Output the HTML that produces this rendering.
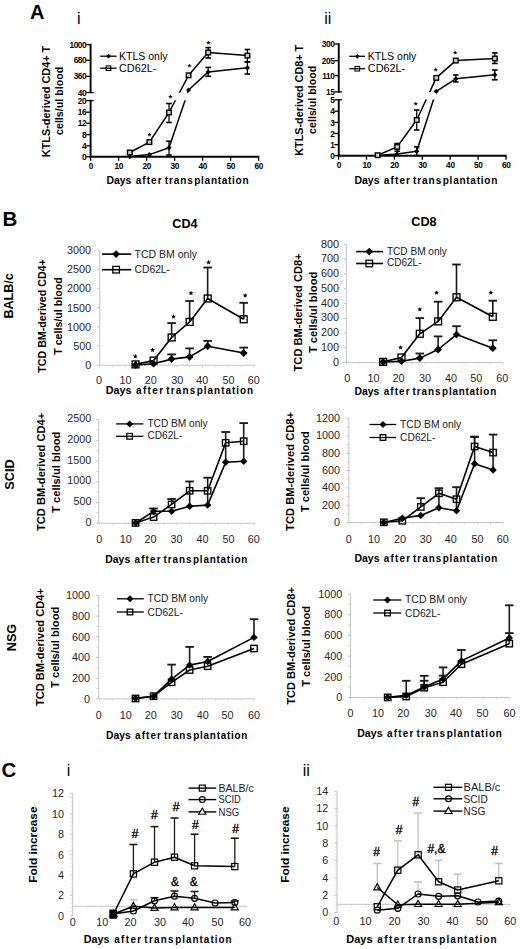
<!DOCTYPE html>
<html><head><meta charset="utf-8"><title>Figure</title>
<style>
html,body{margin:0;padding:0;background:#fff;width:520px;height:949px;overflow:hidden}
svg{display:block}
text{font-family:"Liberation Sans", sans-serif}
</style></head>
<body>
<svg width="520" height="949" viewBox="0 0 520 949">
<rect x="0" y="0" width="520" height="949" fill="#fff"/>
<text x="30.00" y="19.20" font-size="20" font-weight="bold" text-anchor="start" fill="#000" >A</text>
<text x="2.50" y="226.00" font-size="20.5" font-weight="bold" text-anchor="start" fill="#000" >B</text>
<text x="1.50" y="777.00" font-size="20.5" font-weight="bold" text-anchor="start" fill="#000" >C</text>
<text x="77.00" y="24.20" font-size="16" font-weight="normal" text-anchor="start" fill="#000" >i</text>
<text x="324.30" y="24.40" font-size="16" font-weight="normal" text-anchor="start" fill="#000" >ii</text>
<text x="66.80" y="775.60" font-size="16" font-weight="normal" text-anchor="start" fill="#000" >i</text>
<text x="302.80" y="775.80" font-size="16" font-weight="normal" text-anchor="start" fill="#000" >ii</text>
<polyline points="129.80,152.50 149.40,142.10 169.00,112.50 188.60,75.30 208.20,52.50 247.40,55.60" fill="none" stroke="#000" stroke-width="1.5" stroke-linejoin="round"/>
<polyline points="129.80,156.60 149.40,154.60 169.00,147.70 188.60,90.00 208.20,71.90 247.40,67.80" fill="none" stroke="#000" stroke-width="1.5" stroke-linejoin="round"/>
<rect x="92.60" y="92.80" width="168.00" height="7.50" fill="#fff" stroke="none" stroke-width="0"/>
<line x1="90.60" y1="43.80" x2="90.60" y2="93.30" stroke="#000" stroke-width="1.9" />
<line x1="90.60" y1="99.80" x2="90.60" y2="157.60" stroke="#000" stroke-width="1.9" />
<line x1="89.80" y1="156.80" x2="259.20" y2="156.80" stroke="#000" stroke-width="1.9" />
<line x1="86.20" y1="44.60" x2="90.60" y2="44.60" stroke="#000" stroke-width="1.3" />
<text x="86.20" y="47.70" font-size="8.3" font-weight="bold" text-anchor="end" fill="#000" letter-spacing="-0.45">1000</text>
<line x1="86.20" y1="60.20" x2="90.60" y2="60.20" stroke="#000" stroke-width="1.3" />
<text x="86.20" y="63.30" font-size="8.3" font-weight="bold" text-anchor="end" fill="#000" letter-spacing="-0.45">680</text>
<line x1="86.20" y1="76.30" x2="90.60" y2="76.30" stroke="#000" stroke-width="1.3" />
<text x="86.20" y="79.40" font-size="8.3" font-weight="bold" text-anchor="end" fill="#000" letter-spacing="-0.45">360</text>
<line x1="86.20" y1="92.50" x2="90.60" y2="92.50" stroke="#000" stroke-width="1.3" />
<text x="86.20" y="95.60" font-size="8.3" font-weight="bold" text-anchor="end" fill="#000" letter-spacing="-0.45">40</text>
<line x1="86.20" y1="100.60" x2="90.60" y2="100.60" stroke="#000" stroke-width="1.3" />
<text x="86.20" y="103.70" font-size="8.3" font-weight="bold" text-anchor="end" fill="#000" letter-spacing="-0.45">20</text>
<line x1="86.20" y1="112.20" x2="90.60" y2="112.20" stroke="#000" stroke-width="1.3" />
<text x="86.20" y="115.30" font-size="8.3" font-weight="bold" text-anchor="end" fill="#000" letter-spacing="-0.45">16</text>
<line x1="86.20" y1="123.30" x2="90.60" y2="123.30" stroke="#000" stroke-width="1.3" />
<text x="86.20" y="126.40" font-size="8.3" font-weight="bold" text-anchor="end" fill="#000" letter-spacing="-0.45">12</text>
<line x1="86.20" y1="134.60" x2="90.60" y2="134.60" stroke="#000" stroke-width="1.3" />
<text x="86.20" y="137.70" font-size="8.3" font-weight="bold" text-anchor="end" fill="#000" letter-spacing="-0.45">8</text>
<line x1="86.20" y1="145.80" x2="90.60" y2="145.80" stroke="#000" stroke-width="1.3" />
<text x="86.20" y="148.90" font-size="8.3" font-weight="bold" text-anchor="end" fill="#000" letter-spacing="-0.45">4</text>
<line x1="86.20" y1="156.80" x2="90.60" y2="156.80" stroke="#000" stroke-width="1.3" />
<text x="86.20" y="159.90" font-size="8.3" font-weight="bold" text-anchor="end" fill="#000" letter-spacing="-0.45">0</text>
<line x1="90.60" y1="92.50" x2="93.80" y2="92.50" stroke="#000" stroke-width="1.3" />
<line x1="90.60" y1="100.60" x2="93.80" y2="100.60" stroke="#000" stroke-width="1.3" />
<line x1="90.60" y1="156.80" x2="90.60" y2="160.80" stroke="#000" stroke-width="1.3" />
<text x="90.80" y="169.20" font-size="8.3" font-weight="bold" text-anchor="middle" fill="#000" letter-spacing="-0.3">0</text>
<line x1="118.60" y1="156.80" x2="118.60" y2="160.80" stroke="#000" stroke-width="1.3" />
<text x="118.80" y="169.20" font-size="8.3" font-weight="bold" text-anchor="middle" fill="#000" letter-spacing="-0.3">10</text>
<line x1="146.60" y1="156.80" x2="146.60" y2="160.80" stroke="#000" stroke-width="1.3" />
<text x="146.80" y="169.20" font-size="8.3" font-weight="bold" text-anchor="middle" fill="#000" letter-spacing="-0.3">20</text>
<line x1="174.60" y1="156.80" x2="174.60" y2="160.80" stroke="#000" stroke-width="1.3" />
<text x="174.80" y="169.20" font-size="8.3" font-weight="bold" text-anchor="middle" fill="#000" letter-spacing="-0.3">30</text>
<line x1="202.60" y1="156.80" x2="202.60" y2="160.80" stroke="#000" stroke-width="1.3" />
<text x="202.80" y="169.20" font-size="8.3" font-weight="bold" text-anchor="middle" fill="#000" letter-spacing="-0.3">40</text>
<line x1="230.60" y1="156.80" x2="230.60" y2="160.80" stroke="#000" stroke-width="1.3" />
<text x="230.80" y="169.20" font-size="8.3" font-weight="bold" text-anchor="middle" fill="#000" letter-spacing="-0.3">50</text>
<line x1="258.60" y1="156.80" x2="258.60" y2="160.80" stroke="#000" stroke-width="1.3" />
<text x="258.80" y="169.20" font-size="8.3" font-weight="bold" text-anchor="middle" fill="#000" letter-spacing="-0.3">60</text>
<line x1="169.00" y1="103.50" x2="169.00" y2="122.50" stroke="#000" stroke-width="1.25" />
<line x1="166.20" y1="103.50" x2="171.80" y2="103.50" stroke="#000" stroke-width="1.6" />
<line x1="166.20" y1="122.50" x2="171.80" y2="122.50" stroke="#000" stroke-width="1.6" />
<line x1="208.20" y1="47.60" x2="208.20" y2="58.00" stroke="#000" stroke-width="1.25" />
<line x1="205.40" y1="47.60" x2="211.00" y2="47.60" stroke="#000" stroke-width="1.6" />
<line x1="205.40" y1="58.00" x2="211.00" y2="58.00" stroke="#000" stroke-width="1.6" />
<line x1="247.40" y1="49.50" x2="247.40" y2="61.90" stroke="#000" stroke-width="1.25" />
<line x1="244.60" y1="49.50" x2="250.20" y2="49.50" stroke="#000" stroke-width="1.6" />
<line x1="244.60" y1="61.90" x2="250.20" y2="61.90" stroke="#000" stroke-width="1.6" />
<line x1="169.00" y1="141.20" x2="169.00" y2="155.00" stroke="#000" stroke-width="1.25" />
<line x1="166.20" y1="141.20" x2="171.80" y2="141.20" stroke="#000" stroke-width="1.6" />
<line x1="166.20" y1="155.00" x2="171.80" y2="155.00" stroke="#000" stroke-width="1.6" />
<line x1="208.20" y1="67.40" x2="208.20" y2="76.30" stroke="#000" stroke-width="1.25" />
<line x1="205.40" y1="67.40" x2="211.00" y2="67.40" stroke="#000" stroke-width="1.6" />
<line x1="205.40" y1="76.30" x2="211.00" y2="76.30" stroke="#000" stroke-width="1.6" />
<line x1="247.40" y1="61.90" x2="247.40" y2="74.00" stroke="#000" stroke-width="1.25" />
<line x1="244.60" y1="61.90" x2="250.20" y2="61.90" stroke="#000" stroke-width="1.6" />
<line x1="244.60" y1="74.00" x2="250.20" y2="74.00" stroke="#000" stroke-width="1.6" />
<polygon points="129.80,154.00 132.40,156.60 129.80,159.20 127.20,156.60" fill="#000"/>
<polygon points="149.40,152.00 152.00,154.60 149.40,157.20 146.80,154.60" fill="#000"/>
<polygon points="169.00,145.10 171.60,147.70 169.00,150.30 166.40,147.70" fill="#000"/>
<polygon points="188.60,87.40 191.20,90.00 188.60,92.60 186.00,90.00" fill="#000"/>
<polygon points="208.20,69.30 210.80,71.90 208.20,74.50 205.60,71.90" fill="#000"/>
<polygon points="247.40,65.20 250.00,67.80 247.40,70.40 244.80,67.80" fill="#000"/>
<rect x="127.50" y="150.20" width="4.60" height="4.60" fill="#cfcfcf" stroke="#000" stroke-width="1.4"/>
<rect x="147.10" y="139.80" width="4.60" height="4.60" fill="#cfcfcf" stroke="#000" stroke-width="1.4"/>
<rect x="166.70" y="110.20" width="4.60" height="4.60" fill="#cfcfcf" stroke="#000" stroke-width="1.4"/>
<rect x="186.30" y="73.00" width="4.60" height="4.60" fill="#cfcfcf" stroke="#000" stroke-width="1.4"/>
<rect x="205.90" y="50.20" width="4.60" height="4.60" fill="#cfcfcf" stroke="#000" stroke-width="1.4"/>
<rect x="245.10" y="53.30" width="4.60" height="4.60" fill="#cfcfcf" stroke="#000" stroke-width="1.4"/>
<text x="149.40" y="138.60" font-size="9.5" font-weight="bold" text-anchor="middle" fill="#000" >*</text>
<text x="170.30" y="100.90" font-size="9.5" font-weight="bold" text-anchor="middle" fill="#000" >*</text>
<text x="189.40" y="70.20" font-size="9.5" font-weight="bold" text-anchor="middle" fill="#000" >*</text>
<text x="208.40" y="46.60" font-size="9.5" font-weight="bold" text-anchor="middle" fill="#000" >*</text>
<line x1="100.20" y1="56.20" x2="116.60" y2="56.20" stroke="#000" stroke-width="1.3" />
<polygon points="108.50,53.80 110.90,56.20 108.50,58.60 106.10,56.20" fill="#000"/>
<line x1="100.20" y1="68.20" x2="116.60" y2="68.20" stroke="#000" stroke-width="1.3" />
<rect x="106.20" y="65.90" width="4.60" height="4.60" fill="none" stroke="#000" stroke-width="1.1"/>
<text x="119.00" y="59.80" font-size="10.5" font-weight="normal" text-anchor="start" fill="#000" textLength="48.60" lengthAdjust="spacingAndGlyphs" >KTLS only</text>
<text x="119.00" y="71.80" font-size="10.5" font-weight="normal" text-anchor="start" fill="#000" textLength="37.40" lengthAdjust="spacingAndGlyphs" >CD62L-</text>
<text x="49.70" y="101.50" font-size="11" font-weight="bold" text-anchor="middle" fill="#000" textLength="111.30" lengthAdjust="spacingAndGlyphs" transform="rotate(-90 49.70 101.50)" >KTLS-derived CD4+ T</text>
<text x="63.10" y="100.85" font-size="11" font-weight="bold" text-anchor="middle" fill="#000" textLength="68.30" lengthAdjust="spacingAndGlyphs" transform="rotate(-90 63.10 100.85)" >cells/ul blood</text>
<text transform="translate(106.40 183.80) scale(0.9 1)" x="0" y="0" font-size="11.2" font-weight="bold" fill="#000" textLength="27.69" lengthAdjust="spacingAndGlyphs">Days</text>
<text transform="translate(135.65 183.80) scale(0.9 1)" x="0" y="0" font-size="11.2" font-weight="bold" fill="#000" textLength="28.95" lengthAdjust="spacing">after</text>
<text transform="translate(164.69 183.80) scale(0.9 1)" x="0" y="0" font-size="11.2" font-weight="bold" fill="#000" textLength="31.22" lengthAdjust="spacing">trans</text>
<text transform="translate(194.29 183.80) scale(0.9 1)" x="0" y="0" font-size="11.2" font-weight="bold" fill="#000" textLength="60.35" lengthAdjust="spacing">plantation</text>
<polyline points="377.66,155.20 397.19,146.90 416.72,120.00 436.25,77.90 455.78,60.60 494.84,58.50" fill="none" stroke="#000" stroke-width="1.5" stroke-linejoin="round"/>
<polyline points="377.66,155.50 397.19,154.00 416.72,151.30 436.25,91.30 455.78,78.80 494.84,74.80" fill="none" stroke="#000" stroke-width="1.5" stroke-linejoin="round"/>
<rect x="340.75" y="92.20" width="167.25" height="7.25" fill="#fff" stroke="none" stroke-width="0"/>
<line x1="338.75" y1="43.20" x2="338.75" y2="92.70" stroke="#000" stroke-width="1.9" />
<line x1="338.75" y1="98.95" x2="338.75" y2="156.50" stroke="#000" stroke-width="1.9" />
<line x1="337.95" y1="155.70" x2="506.60" y2="155.70" stroke="#000" stroke-width="1.9" />
<line x1="334.35" y1="44.00" x2="338.75" y2="44.00" stroke="#000" stroke-width="1.3" />
<text x="334.35" y="47.10" font-size="8.3" font-weight="bold" text-anchor="end" fill="#000" letter-spacing="-0.45">300</text>
<line x1="334.35" y1="60.60" x2="338.75" y2="60.60" stroke="#000" stroke-width="1.3" />
<text x="334.35" y="63.70" font-size="8.3" font-weight="bold" text-anchor="end" fill="#000" letter-spacing="-0.45">205</text>
<line x1="334.35" y1="75.60" x2="338.75" y2="75.60" stroke="#000" stroke-width="1.3" />
<text x="334.35" y="78.70" font-size="8.3" font-weight="bold" text-anchor="end" fill="#000" letter-spacing="-0.45">110</text>
<line x1="334.35" y1="91.90" x2="338.75" y2="91.90" stroke="#000" stroke-width="1.3" />
<text x="334.35" y="95.00" font-size="8.3" font-weight="bold" text-anchor="end" fill="#000" letter-spacing="-0.45">15</text>
<line x1="334.35" y1="99.75" x2="338.75" y2="99.75" stroke="#000" stroke-width="1.3" />
<text x="334.35" y="102.85" font-size="8.3" font-weight="bold" text-anchor="end" fill="#000" letter-spacing="-0.45">5</text>
<line x1="334.35" y1="111.20" x2="338.75" y2="111.20" stroke="#000" stroke-width="1.3" />
<text x="334.35" y="114.30" font-size="8.3" font-weight="bold" text-anchor="end" fill="#000" letter-spacing="-0.45">4</text>
<line x1="334.35" y1="122.40" x2="338.75" y2="122.40" stroke="#000" stroke-width="1.3" />
<text x="334.35" y="125.50" font-size="8.3" font-weight="bold" text-anchor="end" fill="#000" letter-spacing="-0.45">3</text>
<line x1="334.35" y1="133.50" x2="338.75" y2="133.50" stroke="#000" stroke-width="1.3" />
<text x="334.35" y="136.60" font-size="8.3" font-weight="bold" text-anchor="end" fill="#000" letter-spacing="-0.45">2</text>
<line x1="334.35" y1="144.60" x2="338.75" y2="144.60" stroke="#000" stroke-width="1.3" />
<text x="334.35" y="147.70" font-size="8.3" font-weight="bold" text-anchor="end" fill="#000" letter-spacing="-0.45">1</text>
<line x1="334.35" y1="155.70" x2="338.75" y2="155.70" stroke="#000" stroke-width="1.3" />
<text x="334.35" y="158.80" font-size="8.3" font-weight="bold" text-anchor="end" fill="#000" letter-spacing="-0.45">0</text>
<line x1="338.75" y1="91.90" x2="341.95" y2="91.90" stroke="#000" stroke-width="1.3" />
<line x1="338.75" y1="99.75" x2="341.95" y2="99.75" stroke="#000" stroke-width="1.3" />
<line x1="338.60" y1="155.70" x2="338.60" y2="159.70" stroke="#000" stroke-width="1.3" />
<text x="338.80" y="168.10" font-size="8.3" font-weight="bold" text-anchor="middle" fill="#000" letter-spacing="-0.3">0</text>
<line x1="366.50" y1="155.70" x2="366.50" y2="159.70" stroke="#000" stroke-width="1.3" />
<text x="366.70" y="168.10" font-size="8.3" font-weight="bold" text-anchor="middle" fill="#000" letter-spacing="-0.3">10</text>
<line x1="394.40" y1="155.70" x2="394.40" y2="159.70" stroke="#000" stroke-width="1.3" />
<text x="394.60" y="168.10" font-size="8.3" font-weight="bold" text-anchor="middle" fill="#000" letter-spacing="-0.3">20</text>
<line x1="422.30" y1="155.70" x2="422.30" y2="159.70" stroke="#000" stroke-width="1.3" />
<text x="422.50" y="168.10" font-size="8.3" font-weight="bold" text-anchor="middle" fill="#000" letter-spacing="-0.3">30</text>
<line x1="450.20" y1="155.70" x2="450.20" y2="159.70" stroke="#000" stroke-width="1.3" />
<text x="450.40" y="168.10" font-size="8.3" font-weight="bold" text-anchor="middle" fill="#000" letter-spacing="-0.3">40</text>
<line x1="478.10" y1="155.70" x2="478.10" y2="159.70" stroke="#000" stroke-width="1.3" />
<text x="478.30" y="168.10" font-size="8.3" font-weight="bold" text-anchor="middle" fill="#000" letter-spacing="-0.3">50</text>
<line x1="506.00" y1="155.70" x2="506.00" y2="159.70" stroke="#000" stroke-width="1.3" />
<text x="506.20" y="168.10" font-size="8.3" font-weight="bold" text-anchor="middle" fill="#000" letter-spacing="-0.3">60</text>
<line x1="397.19" y1="143.50" x2="397.19" y2="151.20" stroke="#000" stroke-width="1.25" />
<line x1="394.39" y1="143.50" x2="399.99" y2="143.50" stroke="#000" stroke-width="1.6" />
<line x1="394.39" y1="151.20" x2="399.99" y2="151.20" stroke="#000" stroke-width="1.6" />
<line x1="416.72" y1="110.00" x2="416.72" y2="130.00" stroke="#000" stroke-width="1.25" />
<line x1="413.92" y1="110.00" x2="419.52" y2="110.00" stroke="#000" stroke-width="1.6" />
<line x1="413.92" y1="130.00" x2="419.52" y2="130.00" stroke="#000" stroke-width="1.6" />
<line x1="494.84" y1="52.90" x2="494.84" y2="63.50" stroke="#000" stroke-width="1.25" />
<line x1="492.04" y1="52.90" x2="497.64" y2="52.90" stroke="#000" stroke-width="1.6" />
<line x1="492.04" y1="63.50" x2="497.64" y2="63.50" stroke="#000" stroke-width="1.6" />
<line x1="416.72" y1="146.90" x2="416.72" y2="155.50" stroke="#000" stroke-width="1.25" />
<line x1="413.92" y1="146.90" x2="419.52" y2="146.90" stroke="#000" stroke-width="1.6" />
<line x1="413.92" y1="155.50" x2="419.52" y2="155.50" stroke="#000" stroke-width="1.6" />
<line x1="455.78" y1="75.00" x2="455.78" y2="81.90" stroke="#000" stroke-width="1.25" />
<line x1="452.98" y1="75.00" x2="458.58" y2="75.00" stroke="#000" stroke-width="1.6" />
<line x1="452.98" y1="81.90" x2="458.58" y2="81.90" stroke="#000" stroke-width="1.6" />
<line x1="494.84" y1="70.00" x2="494.84" y2="79.80" stroke="#000" stroke-width="1.25" />
<line x1="492.04" y1="70.00" x2="497.64" y2="70.00" stroke="#000" stroke-width="1.6" />
<line x1="492.04" y1="79.80" x2="497.64" y2="79.80" stroke="#000" stroke-width="1.6" />
<polygon points="377.66,152.90 380.26,155.50 377.66,158.10 375.06,155.50" fill="#000"/>
<polygon points="397.19,151.40 399.79,154.00 397.19,156.60 394.59,154.00" fill="#000"/>
<polygon points="416.72,148.70 419.32,151.30 416.72,153.90 414.12,151.30" fill="#000"/>
<polygon points="436.25,88.70 438.85,91.30 436.25,93.90 433.65,91.30" fill="#000"/>
<polygon points="455.78,76.20 458.38,78.80 455.78,81.40 453.18,78.80" fill="#000"/>
<polygon points="494.84,72.20 497.44,74.80 494.84,77.40 492.24,74.80" fill="#000"/>
<rect x="375.36" y="152.90" width="4.60" height="4.60" fill="#cfcfcf" stroke="#000" stroke-width="1.4"/>
<rect x="394.89" y="144.60" width="4.60" height="4.60" fill="#cfcfcf" stroke="#000" stroke-width="1.4"/>
<rect x="414.42" y="117.70" width="4.60" height="4.60" fill="#cfcfcf" stroke="#000" stroke-width="1.4"/>
<rect x="433.95" y="75.60" width="4.60" height="4.60" fill="#cfcfcf" stroke="#000" stroke-width="1.4"/>
<rect x="453.48" y="58.30" width="4.60" height="4.60" fill="#cfcfcf" stroke="#000" stroke-width="1.4"/>
<rect x="492.54" y="56.20" width="4.60" height="4.60" fill="#cfcfcf" stroke="#000" stroke-width="1.4"/>
<text x="415.60" y="108.10" font-size="9.5" font-weight="bold" text-anchor="middle" fill="#000" >*</text>
<text x="435.60" y="74.00" font-size="9.5" font-weight="bold" text-anchor="middle" fill="#000" >*</text>
<text x="455.20" y="56.90" font-size="9.5" font-weight="bold" text-anchor="middle" fill="#000" >*</text>
<line x1="349.40" y1="56.30" x2="365.00" y2="56.30" stroke="#000" stroke-width="1.3" />
<polygon points="357.30,53.90 359.70,56.30 357.30,58.70 354.90,56.30" fill="#000"/>
<line x1="349.40" y1="68.70" x2="365.00" y2="68.70" stroke="#000" stroke-width="1.3" />
<rect x="355.00" y="66.40" width="4.60" height="4.60" fill="none" stroke="#000" stroke-width="1.1"/>
<text x="367.80" y="59.90" font-size="10.5" font-weight="normal" text-anchor="start" fill="#000" textLength="48.60" lengthAdjust="spacingAndGlyphs" >KTLS only</text>
<text x="367.80" y="72.30" font-size="10.5" font-weight="normal" text-anchor="start" fill="#000" textLength="37.40" lengthAdjust="spacingAndGlyphs" >CD62L-</text>
<text x="303.00" y="100.30" font-size="11" font-weight="bold" text-anchor="middle" fill="#000" textLength="110.90" lengthAdjust="spacingAndGlyphs" transform="rotate(-90 303.00 100.30)" >KTLS-derived CD8+ T</text>
<text x="316.00" y="99.80" font-size="11" font-weight="bold" text-anchor="middle" fill="#000" textLength="68.20" lengthAdjust="spacingAndGlyphs" transform="rotate(-90 316.00 99.80)" >cells/ul blood</text>
<text transform="translate(354.50 183.80) scale(0.9 1)" x="0" y="0" font-size="11.2" font-weight="bold" fill="#000" textLength="27.80" lengthAdjust="spacingAndGlyphs">Days</text>
<text transform="translate(383.87 183.80) scale(0.9 1)" x="0" y="0" font-size="11.2" font-weight="bold" fill="#000" textLength="29.06" lengthAdjust="spacing">after</text>
<text transform="translate(413.03 183.80) scale(0.9 1)" x="0" y="0" font-size="11.2" font-weight="bold" fill="#000" textLength="31.35" lengthAdjust="spacing">trans</text>
<text transform="translate(442.76 183.80) scale(0.9 1)" x="0" y="0" font-size="11.2" font-weight="bold" fill="#000" textLength="60.60" lengthAdjust="spacing">plantation</text>
<text x="172.30" y="227.60" font-size="12" font-weight="bold" text-anchor="start" fill="#000" textLength="25.20" lengthAdjust="spacingAndGlyphs" >CD4</text>
<text x="411.30" y="226.40" font-size="12" font-weight="bold" text-anchor="start" fill="#000" textLength="25.20" lengthAdjust="spacingAndGlyphs" >CD8</text>
<text x="13.50" y="295.90" font-size="12" font-weight="bold" text-anchor="middle" fill="#000" textLength="45.40" lengthAdjust="spacingAndGlyphs" transform="rotate(-90 13.50 295.90)" >BALB/c</text>
<text x="13.90" y="474.60" font-size="12" font-weight="bold" text-anchor="middle" fill="#000" textLength="30.40" lengthAdjust="spacingAndGlyphs" transform="rotate(-90 13.90 474.60)" >SCID</text>
<text x="15.90" y="637.50" font-size="12" font-weight="bold" text-anchor="middle" fill="#000" textLength="27.30" lengthAdjust="spacingAndGlyphs" transform="rotate(-90 15.90 637.50)" >NSG</text>
<line x1="99.75" y1="250.00" x2="99.75" y2="365.20" stroke="#c4c4c4" stroke-width="1.0" />
<line x1="99.75" y1="365.20" x2="255.30" y2="365.20" stroke="#c4c4c4" stroke-width="1.0" />
<line x1="97.15" y1="365.20" x2="99.75" y2="365.20" stroke="#c4c4c4" stroke-width="1.0" />
<text x="91.15" y="369.10" font-size="10.8" font-weight="normal" text-anchor="end" fill="#262626" >0</text>
<line x1="97.15" y1="346.00" x2="99.75" y2="346.00" stroke="#c4c4c4" stroke-width="1.0" />
<text x="91.15" y="349.90" font-size="10.8" font-weight="normal" text-anchor="end" fill="#262626" >500</text>
<line x1="97.15" y1="326.80" x2="99.75" y2="326.80" stroke="#c4c4c4" stroke-width="1.0" />
<text x="91.15" y="330.70" font-size="10.8" font-weight="normal" text-anchor="end" fill="#262626" >1000</text>
<line x1="97.15" y1="307.60" x2="99.75" y2="307.60" stroke="#c4c4c4" stroke-width="1.0" />
<text x="91.15" y="311.50" font-size="10.8" font-weight="normal" text-anchor="end" fill="#262626" >1500</text>
<line x1="97.15" y1="288.40" x2="99.75" y2="288.40" stroke="#c4c4c4" stroke-width="1.0" />
<text x="91.15" y="292.30" font-size="10.8" font-weight="normal" text-anchor="end" fill="#262626" >2000</text>
<line x1="97.15" y1="269.20" x2="99.75" y2="269.20" stroke="#c4c4c4" stroke-width="1.0" />
<text x="91.15" y="273.10" font-size="10.8" font-weight="normal" text-anchor="end" fill="#262626" >2500</text>
<line x1="97.15" y1="250.00" x2="99.75" y2="250.00" stroke="#c4c4c4" stroke-width="1.0" />
<text x="91.15" y="253.90" font-size="10.8" font-weight="normal" text-anchor="end" fill="#262626" >3000</text>
<line x1="99.50" y1="365.20" x2="99.50" y2="367.40" stroke="#d0d0d0" stroke-width="0.8" />
<line x1="112.38" y1="365.20" x2="112.38" y2="367.40" stroke="#d0d0d0" stroke-width="0.8" />
<line x1="125.25" y1="365.20" x2="125.25" y2="367.40" stroke="#d0d0d0" stroke-width="0.8" />
<line x1="138.12" y1="365.20" x2="138.12" y2="367.40" stroke="#d0d0d0" stroke-width="0.8" />
<line x1="151.00" y1="365.20" x2="151.00" y2="367.40" stroke="#d0d0d0" stroke-width="0.8" />
<line x1="163.88" y1="365.20" x2="163.88" y2="367.40" stroke="#d0d0d0" stroke-width="0.8" />
<line x1="176.75" y1="365.20" x2="176.75" y2="367.40" stroke="#d0d0d0" stroke-width="0.8" />
<line x1="189.62" y1="365.20" x2="189.62" y2="367.40" stroke="#d0d0d0" stroke-width="0.8" />
<line x1="202.50" y1="365.20" x2="202.50" y2="367.40" stroke="#d0d0d0" stroke-width="0.8" />
<line x1="215.38" y1="365.20" x2="215.38" y2="367.40" stroke="#d0d0d0" stroke-width="0.8" />
<line x1="228.25" y1="365.20" x2="228.25" y2="367.40" stroke="#d0d0d0" stroke-width="0.8" />
<line x1="241.12" y1="365.20" x2="241.12" y2="367.40" stroke="#d0d0d0" stroke-width="0.8" />
<line x1="254.00" y1="365.20" x2="254.00" y2="367.40" stroke="#d0d0d0" stroke-width="0.8" />
<text x="98.90" y="383.50" font-size="10.8" font-weight="normal" text-anchor="middle" fill="#262626" >0</text>
<text x="125.60" y="383.50" font-size="10.8" font-weight="normal" text-anchor="middle" fill="#262626" >10</text>
<text x="150.80" y="383.50" font-size="10.8" font-weight="normal" text-anchor="middle" fill="#262626" >20</text>
<text x="177.20" y="383.50" font-size="10.8" font-weight="normal" text-anchor="middle" fill="#262626" >30</text>
<text x="202.20" y="383.50" font-size="10.8" font-weight="normal" text-anchor="middle" fill="#262626" >40</text>
<text x="228.40" y="383.50" font-size="10.8" font-weight="normal" text-anchor="middle" fill="#262626" >50</text>
<text x="253.70" y="383.50" font-size="10.8" font-weight="normal" text-anchor="middle" fill="#262626" >60</text>
<text transform="translate(105.70 394.20) scale(0.9 1)" x="0" y="0" font-size="11.0" font-weight="bold" fill="#000" textLength="28.67" lengthAdjust="spacingAndGlyphs">Days</text>
<text transform="translate(136.03 394.20) scale(0.9 1)" x="0" y="0" font-size="11.0" font-weight="bold" fill="#000" textLength="29.97" lengthAdjust="spacing">after</text>
<text transform="translate(166.13 394.20) scale(0.9 1)" x="0" y="0" font-size="11.0" font-weight="bold" fill="#000" textLength="32.33" lengthAdjust="spacing">trans</text>
<text transform="translate(196.82 394.20) scale(0.9 1)" x="0" y="0" font-size="11.0" font-weight="bold" fill="#000" textLength="62.53" lengthAdjust="spacing">plantation</text>
<text x="45.90" y="316.00" font-size="11" font-weight="bold" text-anchor="middle" fill="#000" textLength="113.50" lengthAdjust="spacingAndGlyphs" transform="rotate(-90 45.90 316.00)" >TCD BM-derived CD4+</text>
<text x="61.60" y="316.00" font-size="11" font-weight="bold" text-anchor="middle" fill="#000" textLength="77.70" lengthAdjust="spacingAndGlyphs" transform="rotate(-90 61.60 316.00)" >T cells/ul blood</text>
<polyline points="135.55,365.00 153.57,363.70 171.60,359.10 189.62,356.90 207.65,346.20 243.70,353.00" fill="none" stroke="#000" stroke-width="1.6" stroke-linejoin="round"/>
<polyline points="135.55,364.40 153.57,360.60 171.60,337.50 189.62,321.90 207.65,298.50 243.70,319.30" fill="none" stroke="#000" stroke-width="1.6" stroke-linejoin="round"/>
<line x1="171.60" y1="359.10" x2="171.60" y2="354.40" stroke="#1a1a1a" stroke-width="1.6" />
<line x1="167.30" y1="354.40" x2="175.90" y2="354.40" stroke="#1a1a1a" stroke-width="1.85" />
<line x1="189.62" y1="356.90" x2="189.62" y2="348.40" stroke="#1a1a1a" stroke-width="1.6" />
<line x1="185.32" y1="348.40" x2="193.93" y2="348.40" stroke="#1a1a1a" stroke-width="1.85" />
<line x1="207.65" y1="346.20" x2="207.65" y2="340.90" stroke="#1a1a1a" stroke-width="1.6" />
<line x1="203.35" y1="340.90" x2="211.95" y2="340.90" stroke="#1a1a1a" stroke-width="1.85" />
<line x1="243.70" y1="353.00" x2="243.70" y2="347.60" stroke="#1a1a1a" stroke-width="1.6" />
<line x1="239.40" y1="347.60" x2="248.00" y2="347.60" stroke="#1a1a1a" stroke-width="1.85" />
<line x1="171.60" y1="337.50" x2="171.60" y2="323.10" stroke="#1a1a1a" stroke-width="1.6" />
<line x1="167.30" y1="323.10" x2="175.90" y2="323.10" stroke="#1a1a1a" stroke-width="1.85" />
<line x1="189.62" y1="321.90" x2="189.62" y2="301.00" stroke="#1a1a1a" stroke-width="1.6" />
<line x1="185.32" y1="301.00" x2="193.93" y2="301.00" stroke="#1a1a1a" stroke-width="1.85" />
<line x1="207.65" y1="298.50" x2="207.65" y2="267.50" stroke="#1a1a1a" stroke-width="1.6" />
<line x1="203.35" y1="267.50" x2="211.95" y2="267.50" stroke="#1a1a1a" stroke-width="1.85" />
<line x1="243.70" y1="319.30" x2="243.70" y2="302.80" stroke="#1a1a1a" stroke-width="1.6" />
<line x1="239.40" y1="302.80" x2="248.00" y2="302.80" stroke="#1a1a1a" stroke-width="1.85" />
<polygon points="135.55,361.10 139.45,365.00 135.55,368.90 131.65,365.00" fill="#000"/>
<polygon points="153.57,359.80 157.47,363.70 153.57,367.60 149.67,363.70" fill="#000"/>
<polygon points="171.60,355.20 175.50,359.10 171.60,363.00 167.70,359.10" fill="#000"/>
<polygon points="189.62,353.00 193.53,356.90 189.62,360.80 185.72,356.90" fill="#000"/>
<polygon points="207.65,342.30 211.55,346.20 207.65,350.10 203.75,346.20" fill="#000"/>
<polygon points="243.70,349.10 247.60,353.00 243.70,356.90 239.80,353.00" fill="#000"/>
<rect x="132.10" y="360.95" width="6.90" height="6.90" fill="none" stroke="#000" stroke-width="1.35"/>
<rect x="150.12" y="357.15" width="6.90" height="6.90" fill="none" stroke="#000" stroke-width="1.35"/>
<rect x="168.15" y="334.05" width="6.90" height="6.90" fill="none" stroke="#000" stroke-width="1.35"/>
<rect x="186.18" y="318.45" width="6.90" height="6.90" fill="none" stroke="#000" stroke-width="1.35"/>
<rect x="204.20" y="295.05" width="6.90" height="6.90" fill="none" stroke="#000" stroke-width="1.35"/>
<rect x="240.25" y="315.85" width="6.90" height="6.90" fill="none" stroke="#000" stroke-width="1.35"/>
<polygon points="135.30,353.85 135.97,355.47 137.73,355.61 136.39,356.75 136.80,358.46 135.30,357.55 133.80,358.46 134.21,356.75 132.87,355.61 134.63,355.47" fill="#000"/>
<polygon points="152.60,347.45 153.27,349.07 155.03,349.21 153.69,350.35 154.10,352.06 152.60,351.15 151.10,352.06 151.51,350.35 150.17,349.21 151.93,349.07" fill="#000"/>
<polygon points="173.50,314.05 174.17,315.67 175.93,315.81 174.59,316.95 175.00,318.66 173.50,317.75 172.00,318.66 172.41,316.95 171.07,315.81 172.83,315.67" fill="#000"/>
<polygon points="191.00,290.55 191.67,292.17 193.43,292.31 192.09,293.45 192.50,295.16 191.00,294.25 189.50,295.16 189.91,293.45 188.57,292.31 190.33,292.17" fill="#000"/>
<polygon points="208.60,259.85 209.27,261.47 211.03,261.61 209.69,262.75 210.10,264.46 208.60,263.55 207.10,264.46 207.51,262.75 206.17,261.61 207.93,261.47" fill="#000"/>
<polygon points="245.20,292.95 245.87,294.57 247.63,294.71 246.29,295.85 246.70,297.56 245.20,296.65 243.70,297.56 244.11,295.85 242.77,294.71 244.53,294.57" fill="#000"/>
<line x1="101.90" y1="254.10" x2="131.30" y2="254.10" stroke="#000" stroke-width="1.6" />
<polygon points="116.10,250.20 120.00,254.10 116.10,258.00 112.20,254.10" fill="#000"/>
<line x1="101.90" y1="269.70" x2="131.30" y2="269.70" stroke="#000" stroke-width="1.6" />
<rect x="112.80" y="266.40" width="6.60" height="6.60" fill="none" stroke="#000" stroke-width="1.3"/>
<text x="134.60" y="257.60" font-size="10.5" font-weight="normal" text-anchor="start" fill="#1a1a1a" textLength="62.40" lengthAdjust="spacingAndGlyphs" >TCD BM only</text>
<text x="134.60" y="273.40" font-size="10.5" font-weight="normal" text-anchor="start" fill="#1a1a1a" textLength="35.40" lengthAdjust="spacingAndGlyphs" >CD62L-</text>
<line x1="346.40" y1="244.50" x2="346.40" y2="362.60" stroke="#c4c4c4" stroke-width="1.0" />
<line x1="346.40" y1="362.60" x2="503.20" y2="362.60" stroke="#c4c4c4" stroke-width="1.0" />
<line x1="343.80" y1="362.60" x2="346.40" y2="362.60" stroke="#c4c4c4" stroke-width="1.0" />
<text x="338.90" y="365.60" font-size="10.8" font-weight="normal" text-anchor="end" fill="#262626" >0</text>
<line x1="343.80" y1="347.84" x2="346.40" y2="347.84" stroke="#c4c4c4" stroke-width="1.0" />
<text x="338.90" y="350.84" font-size="10.8" font-weight="normal" text-anchor="end" fill="#262626" >100</text>
<line x1="343.80" y1="333.08" x2="346.40" y2="333.08" stroke="#c4c4c4" stroke-width="1.0" />
<text x="338.90" y="336.08" font-size="10.8" font-weight="normal" text-anchor="end" fill="#262626" >200</text>
<line x1="343.80" y1="318.32" x2="346.40" y2="318.32" stroke="#c4c4c4" stroke-width="1.0" />
<text x="338.90" y="321.32" font-size="10.8" font-weight="normal" text-anchor="end" fill="#262626" >300</text>
<line x1="343.80" y1="303.56" x2="346.40" y2="303.56" stroke="#c4c4c4" stroke-width="1.0" />
<text x="338.90" y="306.56" font-size="10.8" font-weight="normal" text-anchor="end" fill="#262626" >400</text>
<line x1="343.80" y1="288.80" x2="346.40" y2="288.80" stroke="#c4c4c4" stroke-width="1.0" />
<text x="338.90" y="291.80" font-size="10.8" font-weight="normal" text-anchor="end" fill="#262626" >500</text>
<line x1="343.80" y1="274.04" x2="346.40" y2="274.04" stroke="#c4c4c4" stroke-width="1.0" />
<text x="338.90" y="277.04" font-size="10.8" font-weight="normal" text-anchor="end" fill="#262626" >600</text>
<line x1="343.80" y1="259.28" x2="346.40" y2="259.28" stroke="#c4c4c4" stroke-width="1.0" />
<text x="338.90" y="262.28" font-size="10.8" font-weight="normal" text-anchor="end" fill="#262626" >700</text>
<line x1="343.80" y1="244.52" x2="346.40" y2="244.52" stroke="#c4c4c4" stroke-width="1.0" />
<text x="338.90" y="247.52" font-size="10.8" font-weight="normal" text-anchor="end" fill="#262626" >800</text>
<line x1="346.70" y1="362.60" x2="346.70" y2="364.80" stroke="#d0d0d0" stroke-width="0.8" />
<line x1="359.75" y1="362.60" x2="359.75" y2="364.80" stroke="#d0d0d0" stroke-width="0.8" />
<line x1="372.80" y1="362.60" x2="372.80" y2="364.80" stroke="#d0d0d0" stroke-width="0.8" />
<line x1="385.85" y1="362.60" x2="385.85" y2="364.80" stroke="#d0d0d0" stroke-width="0.8" />
<line x1="398.90" y1="362.60" x2="398.90" y2="364.80" stroke="#d0d0d0" stroke-width="0.8" />
<line x1="411.95" y1="362.60" x2="411.95" y2="364.80" stroke="#d0d0d0" stroke-width="0.8" />
<line x1="425.00" y1="362.60" x2="425.00" y2="364.80" stroke="#d0d0d0" stroke-width="0.8" />
<line x1="438.05" y1="362.60" x2="438.05" y2="364.80" stroke="#d0d0d0" stroke-width="0.8" />
<line x1="451.10" y1="362.60" x2="451.10" y2="364.80" stroke="#d0d0d0" stroke-width="0.8" />
<line x1="464.15" y1="362.60" x2="464.15" y2="364.80" stroke="#d0d0d0" stroke-width="0.8" />
<line x1="477.20" y1="362.60" x2="477.20" y2="364.80" stroke="#d0d0d0" stroke-width="0.8" />
<line x1="490.25" y1="362.60" x2="490.25" y2="364.80" stroke="#d0d0d0" stroke-width="0.8" />
<line x1="503.30" y1="362.60" x2="503.30" y2="364.80" stroke="#d0d0d0" stroke-width="0.8" />
<text x="347.20" y="381.50" font-size="10.8" font-weight="normal" text-anchor="middle" fill="#262626" >0</text>
<text x="373.40" y="381.50" font-size="10.8" font-weight="normal" text-anchor="middle" fill="#262626" >10</text>
<text x="398.60" y="381.50" font-size="10.8" font-weight="normal" text-anchor="middle" fill="#262626" >20</text>
<text x="425.00" y="381.50" font-size="10.8" font-weight="normal" text-anchor="middle" fill="#262626" >30</text>
<text x="451.10" y="381.50" font-size="10.8" font-weight="normal" text-anchor="middle" fill="#262626" >40</text>
<text x="476.30" y="381.50" font-size="10.8" font-weight="normal" text-anchor="middle" fill="#262626" >50</text>
<text x="502.30" y="381.50" font-size="10.8" font-weight="normal" text-anchor="middle" fill="#262626" >60</text>
<text transform="translate(354.50 394.50) scale(0.9 1)" x="0" y="0" font-size="11.0" font-weight="bold" fill="#000" textLength="27.60" lengthAdjust="spacingAndGlyphs">Days</text>
<text transform="translate(383.65 394.50) scale(0.9 1)" x="0" y="0" font-size="11.0" font-weight="bold" fill="#000" textLength="28.85" lengthAdjust="spacing">after</text>
<text transform="translate(412.58 394.50) scale(0.9 1)" x="0" y="0" font-size="11.0" font-weight="bold" fill="#000" textLength="31.12" lengthAdjust="spacing">trans</text>
<text transform="translate(442.08 394.50) scale(0.9 1)" x="0" y="0" font-size="11.0" font-weight="bold" fill="#000" textLength="60.14" lengthAdjust="spacing">plantation</text>
<text x="302.50" y="312.40" font-size="11" font-weight="bold" text-anchor="middle" fill="#000" textLength="118.00" lengthAdjust="spacingAndGlyphs" transform="rotate(-90 302.50 312.40)" >TCD BM-derived CD8+</text>
<text x="317.10" y="312.40" font-size="11" font-weight="bold" text-anchor="middle" fill="#000" textLength="81.40" lengthAdjust="spacingAndGlyphs" transform="rotate(-90 317.10 312.40)" >T cells/ul blood</text>
<polyline points="383.10,362.00 401.50,361.20 419.80,358.10 438.10,349.50 456.50,334.60 492.80,348.20" fill="none" stroke="#000" stroke-width="1.6" stroke-linejoin="round"/>
<polyline points="383.10,361.90 401.50,357.50 419.80,333.80 438.10,321.40 456.50,297.30 492.80,316.80" fill="none" stroke="#000" stroke-width="1.6" stroke-linejoin="round"/>
<line x1="419.80" y1="358.10" x2="419.80" y2="353.50" stroke="#1a1a1a" stroke-width="1.6" />
<line x1="415.50" y1="353.50" x2="424.10" y2="353.50" stroke="#1a1a1a" stroke-width="1.85" />
<line x1="438.10" y1="349.50" x2="438.10" y2="336.40" stroke="#1a1a1a" stroke-width="1.6" />
<line x1="433.80" y1="336.40" x2="442.40" y2="336.40" stroke="#1a1a1a" stroke-width="1.85" />
<line x1="456.50" y1="334.60" x2="456.50" y2="326.20" stroke="#1a1a1a" stroke-width="1.6" />
<line x1="452.20" y1="326.20" x2="460.80" y2="326.20" stroke="#1a1a1a" stroke-width="1.85" />
<line x1="492.80" y1="348.20" x2="492.80" y2="340.30" stroke="#1a1a1a" stroke-width="1.6" />
<line x1="488.50" y1="340.30" x2="497.10" y2="340.30" stroke="#1a1a1a" stroke-width="1.85" />
<line x1="419.80" y1="333.80" x2="419.80" y2="318.10" stroke="#1a1a1a" stroke-width="1.6" />
<line x1="415.50" y1="318.10" x2="424.10" y2="318.10" stroke="#1a1a1a" stroke-width="1.85" />
<line x1="438.10" y1="321.40" x2="438.10" y2="301.70" stroke="#1a1a1a" stroke-width="1.6" />
<line x1="433.80" y1="301.70" x2="442.40" y2="301.70" stroke="#1a1a1a" stroke-width="1.85" />
<line x1="456.50" y1="297.30" x2="456.50" y2="264.50" stroke="#1a1a1a" stroke-width="1.6" />
<line x1="452.20" y1="264.50" x2="460.80" y2="264.50" stroke="#1a1a1a" stroke-width="1.85" />
<line x1="492.80" y1="316.80" x2="492.80" y2="300.70" stroke="#1a1a1a" stroke-width="1.6" />
<line x1="488.50" y1="300.70" x2="497.10" y2="300.70" stroke="#1a1a1a" stroke-width="1.85" />
<polygon points="383.10,358.10 387.00,362.00 383.10,365.90 379.20,362.00" fill="#000"/>
<polygon points="401.50,357.30 405.40,361.20 401.50,365.10 397.60,361.20" fill="#000"/>
<polygon points="419.80,354.20 423.70,358.10 419.80,362.00 415.90,358.10" fill="#000"/>
<polygon points="438.10,345.60 442.00,349.50 438.10,353.40 434.20,349.50" fill="#000"/>
<polygon points="456.50,330.70 460.40,334.60 456.50,338.50 452.60,334.60" fill="#000"/>
<polygon points="492.80,344.30 496.70,348.20 492.80,352.10 488.90,348.20" fill="#000"/>
<rect x="379.65" y="358.45" width="6.90" height="6.90" fill="none" stroke="#000" stroke-width="1.35"/>
<rect x="398.05" y="354.05" width="6.90" height="6.90" fill="none" stroke="#000" stroke-width="1.35"/>
<rect x="416.35" y="330.35" width="6.90" height="6.90" fill="none" stroke="#000" stroke-width="1.35"/>
<rect x="434.65" y="317.95" width="6.90" height="6.90" fill="none" stroke="#000" stroke-width="1.35"/>
<rect x="453.05" y="293.85" width="6.90" height="6.90" fill="none" stroke="#000" stroke-width="1.35"/>
<rect x="489.35" y="313.35" width="6.90" height="6.90" fill="none" stroke="#000" stroke-width="1.35"/>
<polygon points="400.60,344.95 401.27,346.57 403.03,346.71 401.69,347.85 402.10,349.56 400.60,348.65 399.10,349.56 399.51,347.85 398.17,346.71 399.93,346.57" fill="#000"/>
<polygon points="419.80,306.85 420.47,308.47 422.23,308.61 420.89,309.75 421.30,311.46 419.80,310.55 418.30,311.46 418.71,309.75 417.37,308.61 419.13,308.47" fill="#000"/>
<polygon points="436.50,290.15 437.17,291.77 438.93,291.91 437.59,293.05 438.00,294.76 436.50,293.85 435.00,294.76 435.41,293.05 434.07,291.91 435.83,291.77" fill="#000"/>
<polygon points="490.80,290.15 491.47,291.77 493.23,291.91 491.89,293.05 492.30,294.76 490.80,293.85 489.30,294.76 489.71,293.05 488.37,291.91 490.13,291.77" fill="#000"/>
<line x1="356.20" y1="251.60" x2="383.10" y2="251.60" stroke="#000" stroke-width="1.6" />
<polygon points="369.30,247.70 373.20,251.60 369.30,255.50 365.40,251.60" fill="#000"/>
<line x1="356.20" y1="263.50" x2="383.10" y2="263.50" stroke="#000" stroke-width="1.6" />
<rect x="366.00" y="260.20" width="6.60" height="6.60" fill="none" stroke="#000" stroke-width="1.3"/>
<text x="386.90" y="255.00" font-size="10.5" font-weight="normal" text-anchor="start" fill="#1a1a1a" textLength="60.00" lengthAdjust="spacingAndGlyphs" >TCD BM only</text>
<text x="386.90" y="266.00" font-size="10.5" font-weight="normal" text-anchor="start" fill="#1a1a1a" textLength="34.60" lengthAdjust="spacingAndGlyphs" >CD62L-</text>
<line x1="98.70" y1="419.70" x2="98.70" y2="523.20" stroke="#c4c4c4" stroke-width="1.0" />
<line x1="98.70" y1="523.20" x2="255.00" y2="523.20" stroke="#c4c4c4" stroke-width="1.0" />
<line x1="96.10" y1="523.20" x2="98.70" y2="523.20" stroke="#c4c4c4" stroke-width="1.0" />
<text x="91.40" y="525.80" font-size="10.8" font-weight="normal" text-anchor="end" fill="#262626" >0</text>
<line x1="96.10" y1="502.50" x2="98.70" y2="502.50" stroke="#c4c4c4" stroke-width="1.0" />
<text x="91.40" y="505.10" font-size="10.8" font-weight="normal" text-anchor="end" fill="#262626" >500</text>
<line x1="96.10" y1="481.80" x2="98.70" y2="481.80" stroke="#c4c4c4" stroke-width="1.0" />
<text x="91.40" y="484.40" font-size="10.8" font-weight="normal" text-anchor="end" fill="#262626" >1000</text>
<line x1="96.10" y1="461.10" x2="98.70" y2="461.10" stroke="#c4c4c4" stroke-width="1.0" />
<text x="91.40" y="463.70" font-size="10.8" font-weight="normal" text-anchor="end" fill="#262626" >1500</text>
<line x1="96.10" y1="440.40" x2="98.70" y2="440.40" stroke="#c4c4c4" stroke-width="1.0" />
<text x="91.40" y="443.00" font-size="10.8" font-weight="normal" text-anchor="end" fill="#262626" >2000</text>
<line x1="96.10" y1="419.70" x2="98.70" y2="419.70" stroke="#c4c4c4" stroke-width="1.0" />
<text x="91.40" y="422.30" font-size="10.8" font-weight="normal" text-anchor="end" fill="#262626" >2500</text>
<line x1="96.30" y1="512.85" x2="98.70" y2="512.85" stroke="#cfcfcf" stroke-width="1.0" />
<line x1="96.30" y1="492.15" x2="98.70" y2="492.15" stroke="#cfcfcf" stroke-width="1.0" />
<line x1="96.30" y1="471.45" x2="98.70" y2="471.45" stroke="#cfcfcf" stroke-width="1.0" />
<line x1="96.30" y1="450.75" x2="98.70" y2="450.75" stroke="#cfcfcf" stroke-width="1.0" />
<line x1="96.30" y1="430.05" x2="98.70" y2="430.05" stroke="#cfcfcf" stroke-width="1.0" />
<line x1="99.50" y1="523.20" x2="99.50" y2="525.40" stroke="#d0d0d0" stroke-width="0.8" />
<line x1="112.38" y1="523.20" x2="112.38" y2="525.40" stroke="#d0d0d0" stroke-width="0.8" />
<line x1="125.25" y1="523.20" x2="125.25" y2="525.40" stroke="#d0d0d0" stroke-width="0.8" />
<line x1="138.12" y1="523.20" x2="138.12" y2="525.40" stroke="#d0d0d0" stroke-width="0.8" />
<line x1="151.00" y1="523.20" x2="151.00" y2="525.40" stroke="#d0d0d0" stroke-width="0.8" />
<line x1="163.88" y1="523.20" x2="163.88" y2="525.40" stroke="#d0d0d0" stroke-width="0.8" />
<line x1="176.75" y1="523.20" x2="176.75" y2="525.40" stroke="#d0d0d0" stroke-width="0.8" />
<line x1="189.62" y1="523.20" x2="189.62" y2="525.40" stroke="#d0d0d0" stroke-width="0.8" />
<line x1="202.50" y1="523.20" x2="202.50" y2="525.40" stroke="#d0d0d0" stroke-width="0.8" />
<line x1="215.38" y1="523.20" x2="215.38" y2="525.40" stroke="#d0d0d0" stroke-width="0.8" />
<line x1="228.25" y1="523.20" x2="228.25" y2="525.40" stroke="#d0d0d0" stroke-width="0.8" />
<line x1="241.12" y1="523.20" x2="241.12" y2="525.40" stroke="#d0d0d0" stroke-width="0.8" />
<line x1="254.00" y1="523.20" x2="254.00" y2="525.40" stroke="#d0d0d0" stroke-width="0.8" />
<text x="99.30" y="542.60" font-size="10.8" font-weight="normal" text-anchor="middle" fill="#262626" >0</text>
<text x="125.70" y="542.60" font-size="10.8" font-weight="normal" text-anchor="middle" fill="#262626" >10</text>
<text x="150.60" y="542.60" font-size="10.8" font-weight="normal" text-anchor="middle" fill="#262626" >20</text>
<text x="176.50" y="542.60" font-size="10.8" font-weight="normal" text-anchor="middle" fill="#262626" >30</text>
<text x="202.50" y="542.60" font-size="10.8" font-weight="normal" text-anchor="middle" fill="#262626" >40</text>
<text x="228.50" y="542.60" font-size="10.8" font-weight="normal" text-anchor="middle" fill="#262626" >50</text>
<text x="253.70" y="542.60" font-size="10.8" font-weight="normal" text-anchor="middle" fill="#262626" >60</text>
<text transform="translate(105.30 562.70) scale(0.9 1)" x="0" y="0" font-size="11.0" font-weight="bold" fill="#000" textLength="27.65" lengthAdjust="spacingAndGlyphs">Days</text>
<text transform="translate(134.51 562.70) scale(0.9 1)" x="0" y="0" font-size="11.0" font-weight="bold" fill="#000" textLength="28.91" lengthAdjust="spacing">after</text>
<text transform="translate(163.50 562.70) scale(0.9 1)" x="0" y="0" font-size="11.0" font-weight="bold" fill="#000" textLength="31.18" lengthAdjust="spacing">trans</text>
<text transform="translate(193.06 562.70) scale(0.9 1)" x="0" y="0" font-size="11.0" font-weight="bold" fill="#000" textLength="60.26" lengthAdjust="spacing">plantation</text>
<text x="44.70" y="471.95" font-size="11" font-weight="bold" text-anchor="middle" fill="#000" textLength="118.20" lengthAdjust="spacingAndGlyphs" transform="rotate(-90 44.70 471.95)" >TCD BM-derived CD4+</text>
<text x="59.70" y="472.30" font-size="11" font-weight="bold" text-anchor="middle" fill="#000" textLength="81.30" lengthAdjust="spacingAndGlyphs" transform="rotate(-90 59.70 472.30)" >T cells/ul blood</text>
<polyline points="135.55,523.00 153.57,511.30 171.60,511.30 189.62,506.20 207.65,505.10 225.68,462.30 243.70,461.20" fill="none" stroke="#000" stroke-width="1.6" stroke-linejoin="round"/>
<polyline points="135.55,522.90 153.57,517.10 171.60,504.40 189.62,490.80 207.65,490.80 225.68,442.80 243.70,441.20" fill="none" stroke="#000" stroke-width="1.6" stroke-linejoin="round"/>
<line x1="153.57" y1="511.30" x2="153.57" y2="508.50" stroke="#1a1a1a" stroke-width="1.6" />
<line x1="149.27" y1="508.50" x2="157.88" y2="508.50" stroke="#1a1a1a" stroke-width="1.85" />
<line x1="189.62" y1="506.20" x2="189.62" y2="490.80" stroke="#1a1a1a" stroke-width="1.6" />
<line x1="207.65" y1="505.10" x2="207.65" y2="490.80" stroke="#1a1a1a" stroke-width="1.6" />
<line x1="225.68" y1="462.30" x2="225.68" y2="442.80" stroke="#1a1a1a" stroke-width="1.6" />
<line x1="243.70" y1="461.20" x2="243.70" y2="441.20" stroke="#1a1a1a" stroke-width="1.6" />
<line x1="171.60" y1="504.40" x2="171.60" y2="499.00" stroke="#1a1a1a" stroke-width="1.6" />
<line x1="167.30" y1="499.00" x2="175.90" y2="499.00" stroke="#1a1a1a" stroke-width="1.85" />
<line x1="189.62" y1="490.80" x2="189.62" y2="481.50" stroke="#1a1a1a" stroke-width="1.6" />
<line x1="185.32" y1="481.50" x2="193.93" y2="481.50" stroke="#1a1a1a" stroke-width="1.85" />
<line x1="207.65" y1="490.80" x2="207.65" y2="477.70" stroke="#1a1a1a" stroke-width="1.6" />
<line x1="203.35" y1="477.70" x2="211.95" y2="477.70" stroke="#1a1a1a" stroke-width="1.85" />
<line x1="225.68" y1="442.80" x2="225.68" y2="432.00" stroke="#1a1a1a" stroke-width="1.6" />
<line x1="221.38" y1="432.00" x2="229.98" y2="432.00" stroke="#1a1a1a" stroke-width="1.85" />
<line x1="243.70" y1="441.20" x2="243.70" y2="423.10" stroke="#1a1a1a" stroke-width="1.6" />
<line x1="239.40" y1="423.10" x2="248.00" y2="423.10" stroke="#1a1a1a" stroke-width="1.85" />
<polygon points="135.55,519.30 139.25,523.00 135.55,526.70 131.85,523.00" fill="#000"/>
<polygon points="153.57,507.60 157.27,511.30 153.57,515.00 149.88,511.30" fill="#000"/>
<polygon points="171.60,507.60 175.30,511.30 171.60,515.00 167.90,511.30" fill="#000"/>
<polygon points="189.62,502.50 193.32,506.20 189.62,509.90 185.93,506.20" fill="#000"/>
<polygon points="207.65,501.40 211.35,505.10 207.65,508.80 203.95,505.10" fill="#000"/>
<polygon points="225.68,458.60 229.38,462.30 225.68,466.00 221.98,462.30" fill="#000"/>
<polygon points="243.70,457.50 247.40,461.20 243.70,464.90 240.00,461.20" fill="#000"/>
<rect x="132.35" y="519.70" width="6.40" height="6.40" fill="none" stroke="#000" stroke-width="1.35"/>
<rect x="150.38" y="513.90" width="6.40" height="6.40" fill="none" stroke="#000" stroke-width="1.35"/>
<rect x="168.40" y="501.20" width="6.40" height="6.40" fill="none" stroke="#000" stroke-width="1.35"/>
<rect x="186.43" y="487.60" width="6.40" height="6.40" fill="none" stroke="#000" stroke-width="1.35"/>
<rect x="204.45" y="487.60" width="6.40" height="6.40" fill="none" stroke="#000" stroke-width="1.35"/>
<rect x="222.48" y="439.60" width="6.40" height="6.40" fill="none" stroke="#000" stroke-width="1.35"/>
<rect x="240.50" y="438.00" width="6.40" height="6.40" fill="none" stroke="#000" stroke-width="1.35"/>
<line x1="116.10" y1="423.90" x2="143.40" y2="423.90" stroke="#000" stroke-width="1.3" />
<polygon points="129.60,420.40 133.10,423.90 129.60,427.40 126.10,423.90" fill="#000"/>
<line x1="116.10" y1="436.30" x2="143.40" y2="436.30" stroke="#000" stroke-width="1.3" />
<rect x="126.80" y="433.50" width="5.60" height="5.60" fill="none" stroke="#000" stroke-width="1.3"/>
<text x="147.40" y="427.10" font-size="10.5" font-weight="normal" text-anchor="start" fill="#1a1a1a" textLength="60.30" lengthAdjust="spacingAndGlyphs" >TCD BM only</text>
<text x="147.40" y="438.90" font-size="10.5" font-weight="normal" text-anchor="start" fill="#1a1a1a" textLength="34.90" lengthAdjust="spacingAndGlyphs" >CD62L-</text>
<line x1="348.90" y1="418.70" x2="348.90" y2="522.50" stroke="#c4c4c4" stroke-width="1.0" />
<line x1="348.90" y1="522.50" x2="503.50" y2="522.50" stroke="#c4c4c4" stroke-width="1.0" />
<line x1="346.30" y1="522.50" x2="348.90" y2="522.50" stroke="#c4c4c4" stroke-width="1.0" />
<text x="340.10" y="525.80" font-size="10.8" font-weight="normal" text-anchor="end" fill="#262626" >0</text>
<line x1="346.30" y1="505.20" x2="348.90" y2="505.20" stroke="#c4c4c4" stroke-width="1.0" />
<text x="340.10" y="508.50" font-size="10.8" font-weight="normal" text-anchor="end" fill="#262626" >200</text>
<line x1="346.30" y1="487.90" x2="348.90" y2="487.90" stroke="#c4c4c4" stroke-width="1.0" />
<text x="340.10" y="491.20" font-size="10.8" font-weight="normal" text-anchor="end" fill="#262626" >400</text>
<line x1="346.30" y1="470.60" x2="348.90" y2="470.60" stroke="#c4c4c4" stroke-width="1.0" />
<text x="340.10" y="473.90" font-size="10.8" font-weight="normal" text-anchor="end" fill="#262626" >600</text>
<line x1="346.30" y1="453.30" x2="348.90" y2="453.30" stroke="#c4c4c4" stroke-width="1.0" />
<text x="340.10" y="456.60" font-size="10.8" font-weight="normal" text-anchor="end" fill="#262626" >800</text>
<line x1="346.30" y1="436.00" x2="348.90" y2="436.00" stroke="#c4c4c4" stroke-width="1.0" />
<text x="340.10" y="439.30" font-size="10.8" font-weight="normal" text-anchor="end" fill="#262626" >1000</text>
<line x1="346.30" y1="418.70" x2="348.90" y2="418.70" stroke="#c4c4c4" stroke-width="1.0" />
<text x="340.10" y="422.00" font-size="10.8" font-weight="normal" text-anchor="end" fill="#262626" >1200</text>
<line x1="346.50" y1="513.85" x2="348.90" y2="513.85" stroke="#cfcfcf" stroke-width="1.0" />
<line x1="346.50" y1="496.55" x2="348.90" y2="496.55" stroke="#cfcfcf" stroke-width="1.0" />
<line x1="346.50" y1="479.25" x2="348.90" y2="479.25" stroke="#cfcfcf" stroke-width="1.0" />
<line x1="346.50" y1="461.95" x2="348.90" y2="461.95" stroke="#cfcfcf" stroke-width="1.0" />
<line x1="346.50" y1="444.65" x2="348.90" y2="444.65" stroke="#cfcfcf" stroke-width="1.0" />
<line x1="346.50" y1="427.35" x2="348.90" y2="427.35" stroke="#cfcfcf" stroke-width="1.0" />
<line x1="348.30" y1="522.50" x2="348.30" y2="524.70" stroke="#d0d0d0" stroke-width="0.8" />
<line x1="361.23" y1="522.50" x2="361.23" y2="524.70" stroke="#d0d0d0" stroke-width="0.8" />
<line x1="374.15" y1="522.50" x2="374.15" y2="524.70" stroke="#d0d0d0" stroke-width="0.8" />
<line x1="387.07" y1="522.50" x2="387.07" y2="524.70" stroke="#d0d0d0" stroke-width="0.8" />
<line x1="400.00" y1="522.50" x2="400.00" y2="524.70" stroke="#d0d0d0" stroke-width="0.8" />
<line x1="412.93" y1="522.50" x2="412.93" y2="524.70" stroke="#d0d0d0" stroke-width="0.8" />
<line x1="425.85" y1="522.50" x2="425.85" y2="524.70" stroke="#d0d0d0" stroke-width="0.8" />
<line x1="438.77" y1="522.50" x2="438.77" y2="524.70" stroke="#d0d0d0" stroke-width="0.8" />
<line x1="451.70" y1="522.50" x2="451.70" y2="524.70" stroke="#d0d0d0" stroke-width="0.8" />
<line x1="464.62" y1="522.50" x2="464.62" y2="524.70" stroke="#d0d0d0" stroke-width="0.8" />
<line x1="477.55" y1="522.50" x2="477.55" y2="524.70" stroke="#d0d0d0" stroke-width="0.8" />
<line x1="490.48" y1="522.50" x2="490.48" y2="524.70" stroke="#d0d0d0" stroke-width="0.8" />
<line x1="503.40" y1="522.50" x2="503.40" y2="524.70" stroke="#d0d0d0" stroke-width="0.8" />
<text x="348.70" y="542.50" font-size="10.8" font-weight="normal" text-anchor="middle" fill="#262626" >0</text>
<text x="373.90" y="542.50" font-size="10.8" font-weight="normal" text-anchor="middle" fill="#262626" >10</text>
<text x="399.90" y="542.50" font-size="10.8" font-weight="normal" text-anchor="middle" fill="#262626" >20</text>
<text x="425.80" y="542.50" font-size="10.8" font-weight="normal" text-anchor="middle" fill="#262626" >30</text>
<text x="450.80" y="542.50" font-size="10.8" font-weight="normal" text-anchor="middle" fill="#262626" >40</text>
<text x="477.40" y="542.50" font-size="10.8" font-weight="normal" text-anchor="middle" fill="#262626" >50</text>
<text x="502.70" y="542.50" font-size="10.8" font-weight="normal" text-anchor="middle" fill="#262626" >60</text>
<text transform="translate(354.50 562.30) scale(0.9 1)" x="0" y="0" font-size="11.0" font-weight="bold" fill="#000" textLength="27.80" lengthAdjust="spacingAndGlyphs">Days</text>
<text transform="translate(383.87 562.30) scale(0.9 1)" x="0" y="0" font-size="11.0" font-weight="bold" fill="#000" textLength="29.06" lengthAdjust="spacing">after</text>
<text transform="translate(413.03 562.30) scale(0.9 1)" x="0" y="0" font-size="11.0" font-weight="bold" fill="#000" textLength="31.35" lengthAdjust="spacing">trans</text>
<text transform="translate(442.76 562.30) scale(0.9 1)" x="0" y="0" font-size="11.0" font-weight="bold" fill="#000" textLength="60.60" lengthAdjust="spacing">plantation</text>
<text x="293.80" y="471.45" font-size="11" font-weight="bold" text-anchor="middle" fill="#000" textLength="119.00" lengthAdjust="spacingAndGlyphs" transform="rotate(-90 293.80 471.45)" >TCD BM-derived CD8+</text>
<text x="309.00" y="471.70" font-size="11" font-weight="bold" text-anchor="middle" fill="#000" textLength="80.90" lengthAdjust="spacingAndGlyphs" transform="rotate(-90 309.00 471.70)" >T cells/ul blood</text>
<polyline points="383.80,522.50 402.30,518.20 420.80,515.40 438.90,507.70 456.50,510.80 474.60,463.80 493.10,470.00" fill="none" stroke="#000" stroke-width="1.6" stroke-linejoin="round"/>
<polyline points="383.80,522.30 402.30,520.80 420.80,506.90 438.90,493.30 456.50,499.20 474.60,446.50 493.10,452.60" fill="none" stroke="#000" stroke-width="1.6" stroke-linejoin="round"/>
<line x1="438.90" y1="507.70" x2="438.90" y2="493.30" stroke="#1a1a1a" stroke-width="1.6" />
<line x1="456.50" y1="510.80" x2="456.50" y2="499.20" stroke="#1a1a1a" stroke-width="1.6" />
<line x1="474.60" y1="463.80" x2="474.60" y2="437.00" stroke="#1a1a1a" stroke-width="1.6" />
<line x1="470.30" y1="437.00" x2="478.90" y2="437.00" stroke="#1a1a1a" stroke-width="1.85" />
<line x1="493.10" y1="470.00" x2="493.10" y2="452.60" stroke="#1a1a1a" stroke-width="1.6" />
<line x1="420.80" y1="506.90" x2="420.80" y2="498.20" stroke="#1a1a1a" stroke-width="1.6" />
<line x1="416.50" y1="498.20" x2="425.10" y2="498.20" stroke="#1a1a1a" stroke-width="1.85" />
<line x1="438.90" y1="493.30" x2="438.90" y2="488.20" stroke="#1a1a1a" stroke-width="1.6" />
<line x1="434.60" y1="488.20" x2="443.20" y2="488.20" stroke="#1a1a1a" stroke-width="1.85" />
<line x1="456.50" y1="499.20" x2="456.50" y2="487.20" stroke="#1a1a1a" stroke-width="1.6" />
<line x1="452.20" y1="487.20" x2="460.80" y2="487.20" stroke="#1a1a1a" stroke-width="1.85" />
<line x1="474.60" y1="446.50" x2="474.60" y2="436.60" stroke="#1a1a1a" stroke-width="1.6" />
<line x1="470.30" y1="436.60" x2="478.90" y2="436.60" stroke="#1a1a1a" stroke-width="1.85" />
<line x1="493.10" y1="452.60" x2="493.10" y2="434.60" stroke="#1a1a1a" stroke-width="1.6" />
<line x1="488.80" y1="434.60" x2="497.40" y2="434.60" stroke="#1a1a1a" stroke-width="1.85" />
<polygon points="383.80,518.80 387.50,522.50 383.80,526.20 380.10,522.50" fill="#000"/>
<polygon points="402.30,514.50 406.00,518.20 402.30,521.90 398.60,518.20" fill="#000"/>
<polygon points="420.80,511.70 424.50,515.40 420.80,519.10 417.10,515.40" fill="#000"/>
<polygon points="438.90,504.00 442.60,507.70 438.90,511.40 435.20,507.70" fill="#000"/>
<polygon points="456.50,507.10 460.20,510.80 456.50,514.50 452.80,510.80" fill="#000"/>
<polygon points="474.60,460.10 478.30,463.80 474.60,467.50 470.90,463.80" fill="#000"/>
<polygon points="493.10,466.30 496.80,470.00 493.10,473.70 489.40,470.00" fill="#000"/>
<rect x="380.60" y="519.10" width="6.40" height="6.40" fill="none" stroke="#000" stroke-width="1.35"/>
<rect x="399.10" y="517.60" width="6.40" height="6.40" fill="none" stroke="#000" stroke-width="1.35"/>
<rect x="417.60" y="503.70" width="6.40" height="6.40" fill="none" stroke="#000" stroke-width="1.35"/>
<rect x="435.70" y="490.10" width="6.40" height="6.40" fill="none" stroke="#000" stroke-width="1.35"/>
<rect x="453.30" y="496.00" width="6.40" height="6.40" fill="none" stroke="#000" stroke-width="1.35"/>
<rect x="471.40" y="443.30" width="6.40" height="6.40" fill="none" stroke="#000" stroke-width="1.35"/>
<rect x="489.90" y="449.40" width="6.40" height="6.40" fill="none" stroke="#000" stroke-width="1.35"/>
<line x1="369.50" y1="424.50" x2="396.30" y2="424.50" stroke="#000" stroke-width="1.3" />
<polygon points="383.00,421.00 386.50,424.50 383.00,428.00 379.50,424.50" fill="#000"/>
<line x1="369.50" y1="437.50" x2="396.30" y2="437.50" stroke="#000" stroke-width="1.3" />
<rect x="380.20" y="434.70" width="5.60" height="5.60" fill="none" stroke="#000" stroke-width="1.3"/>
<text x="400.00" y="428.10" font-size="10.5" font-weight="normal" text-anchor="start" fill="#1a1a1a" textLength="61.20" lengthAdjust="spacingAndGlyphs" >TCD BM only</text>
<text x="400.00" y="441.00" font-size="10.5" font-weight="normal" text-anchor="start" fill="#1a1a1a" textLength="35.50" lengthAdjust="spacingAndGlyphs" >CD62L-</text>
<line x1="98.70" y1="595.40" x2="98.70" y2="698.90" stroke="#c4c4c4" stroke-width="1.0" />
<line x1="98.70" y1="698.90" x2="255.00" y2="698.90" stroke="#c4c4c4" stroke-width="1.0" />
<line x1="96.10" y1="698.90" x2="98.70" y2="698.90" stroke="#c4c4c4" stroke-width="1.0" />
<text x="90.10" y="702.80" font-size="10.8" font-weight="normal" text-anchor="end" fill="#262626" >0</text>
<line x1="96.10" y1="678.22" x2="98.70" y2="678.22" stroke="#c4c4c4" stroke-width="1.0" />
<text x="90.10" y="682.12" font-size="10.8" font-weight="normal" text-anchor="end" fill="#262626" >200</text>
<line x1="96.10" y1="657.54" x2="98.70" y2="657.54" stroke="#c4c4c4" stroke-width="1.0" />
<text x="90.10" y="661.44" font-size="10.8" font-weight="normal" text-anchor="end" fill="#262626" >400</text>
<line x1="96.10" y1="636.86" x2="98.70" y2="636.86" stroke="#c4c4c4" stroke-width="1.0" />
<text x="90.10" y="640.76" font-size="10.8" font-weight="normal" text-anchor="end" fill="#262626" >600</text>
<line x1="96.10" y1="616.18" x2="98.70" y2="616.18" stroke="#c4c4c4" stroke-width="1.0" />
<text x="90.10" y="620.08" font-size="10.8" font-weight="normal" text-anchor="end" fill="#262626" >800</text>
<line x1="96.10" y1="595.50" x2="98.70" y2="595.50" stroke="#c4c4c4" stroke-width="1.0" />
<text x="90.10" y="599.40" font-size="10.8" font-weight="normal" text-anchor="end" fill="#262626" >1000</text>
<line x1="96.30" y1="688.56" x2="98.70" y2="688.56" stroke="#cfcfcf" stroke-width="1.0" />
<line x1="96.30" y1="667.88" x2="98.70" y2="667.88" stroke="#cfcfcf" stroke-width="1.0" />
<line x1="96.30" y1="647.20" x2="98.70" y2="647.20" stroke="#cfcfcf" stroke-width="1.0" />
<line x1="96.30" y1="626.52" x2="98.70" y2="626.52" stroke="#cfcfcf" stroke-width="1.0" />
<line x1="96.30" y1="605.84" x2="98.70" y2="605.84" stroke="#cfcfcf" stroke-width="1.0" />
<line x1="99.50" y1="698.90" x2="99.50" y2="701.10" stroke="#d0d0d0" stroke-width="0.8" />
<line x1="112.38" y1="698.90" x2="112.38" y2="701.10" stroke="#d0d0d0" stroke-width="0.8" />
<line x1="125.25" y1="698.90" x2="125.25" y2="701.10" stroke="#d0d0d0" stroke-width="0.8" />
<line x1="138.12" y1="698.90" x2="138.12" y2="701.10" stroke="#d0d0d0" stroke-width="0.8" />
<line x1="151.00" y1="698.90" x2="151.00" y2="701.10" stroke="#d0d0d0" stroke-width="0.8" />
<line x1="163.88" y1="698.90" x2="163.88" y2="701.10" stroke="#d0d0d0" stroke-width="0.8" />
<line x1="176.75" y1="698.90" x2="176.75" y2="701.10" stroke="#d0d0d0" stroke-width="0.8" />
<line x1="189.62" y1="698.90" x2="189.62" y2="701.10" stroke="#d0d0d0" stroke-width="0.8" />
<line x1="202.50" y1="698.90" x2="202.50" y2="701.10" stroke="#d0d0d0" stroke-width="0.8" />
<line x1="215.38" y1="698.90" x2="215.38" y2="701.10" stroke="#d0d0d0" stroke-width="0.8" />
<line x1="228.25" y1="698.90" x2="228.25" y2="701.10" stroke="#d0d0d0" stroke-width="0.8" />
<line x1="241.12" y1="698.90" x2="241.12" y2="701.10" stroke="#d0d0d0" stroke-width="0.8" />
<line x1="254.00" y1="698.90" x2="254.00" y2="701.10" stroke="#d0d0d0" stroke-width="0.8" />
<text x="98.80" y="719.10" font-size="10.8" font-weight="normal" text-anchor="middle" fill="#262626" >0</text>
<text x="125.80" y="719.10" font-size="10.8" font-weight="normal" text-anchor="middle" fill="#262626" >10</text>
<text x="150.80" y="719.10" font-size="10.8" font-weight="normal" text-anchor="middle" fill="#262626" >20</text>
<text x="176.70" y="719.10" font-size="10.8" font-weight="normal" text-anchor="middle" fill="#262626" >30</text>
<text x="202.70" y="719.10" font-size="10.8" font-weight="normal" text-anchor="middle" fill="#262626" >40</text>
<text x="227.60" y="719.10" font-size="10.8" font-weight="normal" text-anchor="middle" fill="#262626" >50</text>
<text x="253.90" y="719.10" font-size="10.8" font-weight="normal" text-anchor="middle" fill="#262626" >60</text>
<text transform="translate(106.00 738.50) scale(0.9 1)" x="0" y="0" font-size="11.0" font-weight="bold" fill="#000" textLength="27.52" lengthAdjust="spacingAndGlyphs">Days</text>
<text transform="translate(135.06 738.50) scale(0.9 1)" x="0" y="0" font-size="11.0" font-weight="bold" fill="#000" textLength="28.77" lengthAdjust="spacing">after</text>
<text transform="translate(163.91 738.50) scale(0.9 1)" x="0" y="0" font-size="11.0" font-weight="bold" fill="#000" textLength="31.03" lengthAdjust="spacing">trans</text>
<text transform="translate(193.33 738.50) scale(0.9 1)" x="0" y="0" font-size="11.0" font-weight="bold" fill="#000" textLength="59.97" lengthAdjust="spacing">plantation</text>
<text x="44.30" y="647.15" font-size="11" font-weight="bold" text-anchor="middle" fill="#000" textLength="117.80" lengthAdjust="spacingAndGlyphs" transform="rotate(-90 44.30 647.15)" >TCD BM-derived CD4+</text>
<text x="59.30" y="647.30" font-size="11" font-weight="bold" text-anchor="middle" fill="#000" textLength="81.30" lengthAdjust="spacingAndGlyphs" transform="rotate(-90 59.30 647.30)" >T cells/ul blood</text>
<polyline points="135.55,698.30 153.57,696.20 171.60,679.20 189.62,665.10 207.65,661.50 254.00,637.40" fill="none" stroke="#000" stroke-width="1.6" stroke-linejoin="round"/>
<polyline points="135.55,698.50 153.57,696.20 171.60,682.30 189.62,670.00 207.65,666.20 254.00,648.50" fill="none" stroke="#000" stroke-width="1.6" stroke-linejoin="round"/>
<line x1="171.60" y1="679.20" x2="171.60" y2="664.60" stroke="#1a1a1a" stroke-width="1.6" />
<line x1="167.30" y1="664.60" x2="175.90" y2="664.60" stroke="#1a1a1a" stroke-width="1.85" />
<line x1="189.62" y1="665.10" x2="189.62" y2="646.90" stroke="#1a1a1a" stroke-width="1.6" />
<line x1="185.32" y1="646.90" x2="193.93" y2="646.90" stroke="#1a1a1a" stroke-width="1.85" />
<line x1="207.65" y1="661.50" x2="207.65" y2="656.90" stroke="#1a1a1a" stroke-width="1.6" />
<line x1="203.35" y1="656.90" x2="211.95" y2="656.90" stroke="#1a1a1a" stroke-width="1.85" />
<line x1="254.00" y1="637.40" x2="254.00" y2="619.20" stroke="#1a1a1a" stroke-width="1.6" />
<line x1="249.70" y1="619.20" x2="258.30" y2="619.20" stroke="#1a1a1a" stroke-width="1.85" />
<polygon points="135.55,694.60 139.25,698.30 135.55,702.00 131.85,698.30" fill="#000"/>
<polygon points="153.57,692.50 157.27,696.20 153.57,699.90 149.88,696.20" fill="#000"/>
<polygon points="171.60,675.50 175.30,679.20 171.60,682.90 167.90,679.20" fill="#000"/>
<polygon points="189.62,661.40 193.32,665.10 189.62,668.80 185.93,665.10" fill="#000"/>
<polygon points="207.65,657.80 211.35,661.50 207.65,665.20 203.95,661.50" fill="#000"/>
<polygon points="254.00,633.70 257.70,637.40 254.00,641.10 250.30,637.40" fill="#000"/>
<rect x="132.35" y="695.30" width="6.40" height="6.40" fill="none" stroke="#000" stroke-width="1.35"/>
<rect x="150.38" y="693.00" width="6.40" height="6.40" fill="none" stroke="#000" stroke-width="1.35"/>
<rect x="168.40" y="679.10" width="6.40" height="6.40" fill="none" stroke="#000" stroke-width="1.35"/>
<rect x="186.43" y="666.80" width="6.40" height="6.40" fill="none" stroke="#000" stroke-width="1.35"/>
<rect x="204.45" y="663.00" width="6.40" height="6.40" fill="none" stroke="#000" stroke-width="1.35"/>
<rect x="250.80" y="645.30" width="6.40" height="6.40" fill="none" stroke="#000" stroke-width="1.35"/>
<line x1="117.00" y1="598.80" x2="143.80" y2="598.80" stroke="#000" stroke-width="1.3" />
<polygon points="130.00,595.30 133.50,598.80 130.00,602.30 126.50,598.80" fill="#000"/>
<line x1="117.00" y1="612.00" x2="143.80" y2="612.00" stroke="#000" stroke-width="1.3" />
<rect x="127.20" y="609.20" width="5.60" height="5.60" fill="none" stroke="#000" stroke-width="1.3"/>
<text x="147.50" y="602.20" font-size="10.5" font-weight="normal" text-anchor="start" fill="#1a1a1a" textLength="60.50" lengthAdjust="spacingAndGlyphs" >TCD BM only</text>
<text x="147.50" y="615.60" font-size="10.5" font-weight="normal" text-anchor="start" fill="#1a1a1a" textLength="35.50" lengthAdjust="spacingAndGlyphs" >CD62L-</text>
<line x1="350.40" y1="594.00" x2="350.40" y2="697.50" stroke="#c4c4c4" stroke-width="1.0" />
<line x1="350.40" y1="697.50" x2="509.80" y2="697.50" stroke="#c4c4c4" stroke-width="1.0" />
<line x1="347.80" y1="697.50" x2="350.40" y2="697.50" stroke="#c4c4c4" stroke-width="1.0" />
<text x="342.30" y="701.20" font-size="10.8" font-weight="normal" text-anchor="end" fill="#262626" >0</text>
<line x1="347.80" y1="676.80" x2="350.40" y2="676.80" stroke="#c4c4c4" stroke-width="1.0" />
<text x="342.30" y="680.50" font-size="10.8" font-weight="normal" text-anchor="end" fill="#262626" >200</text>
<line x1="347.80" y1="656.10" x2="350.40" y2="656.10" stroke="#c4c4c4" stroke-width="1.0" />
<text x="342.30" y="659.80" font-size="10.8" font-weight="normal" text-anchor="end" fill="#262626" >400</text>
<line x1="347.80" y1="635.40" x2="350.40" y2="635.40" stroke="#c4c4c4" stroke-width="1.0" />
<text x="342.30" y="639.10" font-size="10.8" font-weight="normal" text-anchor="end" fill="#262626" >600</text>
<line x1="347.80" y1="614.70" x2="350.40" y2="614.70" stroke="#c4c4c4" stroke-width="1.0" />
<text x="342.30" y="618.40" font-size="10.8" font-weight="normal" text-anchor="end" fill="#262626" >800</text>
<line x1="347.80" y1="594.00" x2="350.40" y2="594.00" stroke="#c4c4c4" stroke-width="1.0" />
<text x="342.30" y="597.70" font-size="10.8" font-weight="normal" text-anchor="end" fill="#262626" >1000</text>
<line x1="348.00" y1="687.15" x2="350.40" y2="687.15" stroke="#cfcfcf" stroke-width="1.0" />
<line x1="348.00" y1="666.45" x2="350.40" y2="666.45" stroke="#cfcfcf" stroke-width="1.0" />
<line x1="348.00" y1="645.75" x2="350.40" y2="645.75" stroke="#cfcfcf" stroke-width="1.0" />
<line x1="348.00" y1="625.05" x2="350.40" y2="625.05" stroke="#cfcfcf" stroke-width="1.0" />
<line x1="348.00" y1="604.35" x2="350.40" y2="604.35" stroke="#cfcfcf" stroke-width="1.0" />
<line x1="350.40" y1="697.50" x2="350.40" y2="699.70" stroke="#d0d0d0" stroke-width="0.8" />
<line x1="363.66" y1="697.50" x2="363.66" y2="699.70" stroke="#d0d0d0" stroke-width="0.8" />
<line x1="376.93" y1="697.50" x2="376.93" y2="699.70" stroke="#d0d0d0" stroke-width="0.8" />
<line x1="390.19" y1="697.50" x2="390.19" y2="699.70" stroke="#d0d0d0" stroke-width="0.8" />
<line x1="403.46" y1="697.50" x2="403.46" y2="699.70" stroke="#d0d0d0" stroke-width="0.8" />
<line x1="416.72" y1="697.50" x2="416.72" y2="699.70" stroke="#d0d0d0" stroke-width="0.8" />
<line x1="429.99" y1="697.50" x2="429.99" y2="699.70" stroke="#d0d0d0" stroke-width="0.8" />
<line x1="443.25" y1="697.50" x2="443.25" y2="699.70" stroke="#d0d0d0" stroke-width="0.8" />
<line x1="456.52" y1="697.50" x2="456.52" y2="699.70" stroke="#d0d0d0" stroke-width="0.8" />
<line x1="469.78" y1="697.50" x2="469.78" y2="699.70" stroke="#d0d0d0" stroke-width="0.8" />
<line x1="483.05" y1="697.50" x2="483.05" y2="699.70" stroke="#d0d0d0" stroke-width="0.8" />
<line x1="496.31" y1="697.50" x2="496.31" y2="699.70" stroke="#d0d0d0" stroke-width="0.8" />
<line x1="509.58" y1="697.50" x2="509.58" y2="699.70" stroke="#d0d0d0" stroke-width="0.8" />
<text x="350.40" y="717.10" font-size="10.8" font-weight="normal" text-anchor="middle" fill="#262626" >0</text>
<text x="378.10" y="717.10" font-size="10.8" font-weight="normal" text-anchor="middle" fill="#262626" >10</text>
<text x="403.30" y="717.10" font-size="10.8" font-weight="normal" text-anchor="middle" fill="#262626" >20</text>
<text x="430.70" y="717.10" font-size="10.8" font-weight="normal" text-anchor="middle" fill="#262626" >30</text>
<text x="456.00" y="717.10" font-size="10.8" font-weight="normal" text-anchor="middle" fill="#262626" >40</text>
<text x="482.60" y="717.10" font-size="10.8" font-weight="normal" text-anchor="middle" fill="#262626" >50</text>
<text x="509.60" y="717.10" font-size="10.8" font-weight="normal" text-anchor="middle" fill="#262626" >60</text>
<text transform="translate(357.20 736.90) scale(0.9 1)" x="0" y="0" font-size="11.0" font-weight="bold" fill="#000" textLength="28.16" lengthAdjust="spacingAndGlyphs">Days</text>
<text transform="translate(386.97 736.90) scale(0.9 1)" x="0" y="0" font-size="11.0" font-weight="bold" fill="#000" textLength="29.44" lengthAdjust="spacing">after</text>
<text transform="translate(416.52 736.90) scale(0.9 1)" x="0" y="0" font-size="11.0" font-weight="bold" fill="#000" textLength="31.76" lengthAdjust="spacing">trans</text>
<text transform="translate(446.64 736.90) scale(0.9 1)" x="0" y="0" font-size="11.0" font-weight="bold" fill="#000" textLength="61.40" lengthAdjust="spacing">plantation</text>
<text x="295.00" y="645.95" font-size="11" font-weight="bold" text-anchor="middle" fill="#000" textLength="117.80" lengthAdjust="spacingAndGlyphs" transform="rotate(-90 295.00 645.95)" >TCD BM-derived CD8+</text>
<text x="310.40" y="646.35" font-size="11" font-weight="bold" text-anchor="middle" fill="#000" textLength="80.80" lengthAdjust="spacingAndGlyphs" transform="rotate(-90 310.40 646.35)" >T cells/ul blood</text>
<polyline points="387.70,697.40 406.20,695.40 424.20,687.00 443.10,678.90 461.40,660.90 509.30,638.00" fill="none" stroke="#000" stroke-width="1.6" stroke-linejoin="round"/>
<polyline points="387.70,697.40 406.20,696.50 424.20,687.70 443.10,682.20 461.40,664.20 509.30,643.70" fill="none" stroke="#000" stroke-width="1.6" stroke-linejoin="round"/>
<line x1="424.20" y1="687.00" x2="424.20" y2="675.80" stroke="#1a1a1a" stroke-width="1.6" />
<line x1="419.90" y1="675.80" x2="428.50" y2="675.80" stroke="#1a1a1a" stroke-width="1.85" />
<line x1="443.10" y1="678.90" x2="443.10" y2="667.40" stroke="#1a1a1a" stroke-width="1.6" />
<line x1="438.80" y1="667.40" x2="447.40" y2="667.40" stroke="#1a1a1a" stroke-width="1.85" />
<line x1="461.40" y1="660.90" x2="461.40" y2="650.00" stroke="#1a1a1a" stroke-width="1.6" />
<line x1="457.10" y1="650.00" x2="465.70" y2="650.00" stroke="#1a1a1a" stroke-width="1.85" />
<line x1="509.30" y1="638.00" x2="509.30" y2="605.30" stroke="#1a1a1a" stroke-width="1.6" />
<line x1="505.00" y1="605.30" x2="513.60" y2="605.30" stroke="#1a1a1a" stroke-width="1.85" />
<line x1="406.20" y1="696.50" x2="406.20" y2="680.80" stroke="#1a1a1a" stroke-width="1.6" />
<line x1="401.90" y1="680.80" x2="410.50" y2="680.80" stroke="#1a1a1a" stroke-width="1.85" />
<line x1="424.20" y1="687.70" x2="424.20" y2="680.80" stroke="#1a1a1a" stroke-width="1.6" />
<line x1="419.90" y1="680.80" x2="428.50" y2="680.80" stroke="#1a1a1a" stroke-width="1.85" />
<line x1="443.10" y1="682.20" x2="443.10" y2="675.60" stroke="#1a1a1a" stroke-width="1.6" />
<line x1="438.80" y1="675.60" x2="447.40" y2="675.60" stroke="#1a1a1a" stroke-width="1.85" />
<line x1="509.30" y1="643.70" x2="509.30" y2="633.10" stroke="#1a1a1a" stroke-width="1.6" />
<line x1="505.00" y1="633.10" x2="513.60" y2="633.10" stroke="#1a1a1a" stroke-width="1.85" />
<polygon points="387.70,693.70 391.40,697.40 387.70,701.10 384.00,697.40" fill="#000"/>
<polygon points="406.20,691.70 409.90,695.40 406.20,699.10 402.50,695.40" fill="#000"/>
<polygon points="424.20,683.30 427.90,687.00 424.20,690.70 420.50,687.00" fill="#000"/>
<polygon points="443.10,675.20 446.80,678.90 443.10,682.60 439.40,678.90" fill="#000"/>
<polygon points="461.40,657.20 465.10,660.90 461.40,664.60 457.70,660.90" fill="#000"/>
<polygon points="509.30,634.30 513.00,638.00 509.30,641.70 505.60,638.00" fill="#000"/>
<rect x="384.50" y="694.20" width="6.40" height="6.40" fill="none" stroke="#000" stroke-width="1.35"/>
<rect x="403.00" y="693.30" width="6.40" height="6.40" fill="none" stroke="#000" stroke-width="1.35"/>
<rect x="421.00" y="684.50" width="6.40" height="6.40" fill="none" stroke="#000" stroke-width="1.35"/>
<rect x="439.90" y="679.00" width="6.40" height="6.40" fill="none" stroke="#000" stroke-width="1.35"/>
<rect x="458.20" y="661.00" width="6.40" height="6.40" fill="none" stroke="#000" stroke-width="1.35"/>
<rect x="506.10" y="640.50" width="6.40" height="6.40" fill="none" stroke="#000" stroke-width="1.35"/>
<line x1="373.30" y1="600.00" x2="401.30" y2="600.00" stroke="#000" stroke-width="1.3" />
<polygon points="387.50,596.50 391.00,600.00 387.50,603.50 384.00,600.00" fill="#000"/>
<line x1="373.30" y1="613.00" x2="401.30" y2="613.00" stroke="#000" stroke-width="1.3" />
<rect x="384.70" y="610.20" width="5.60" height="5.60" fill="none" stroke="#000" stroke-width="1.3"/>
<text x="405.00" y="603.30" font-size="10.5" font-weight="normal" text-anchor="start" fill="#1a1a1a" textLength="62.00" lengthAdjust="spacingAndGlyphs" >TCD BM only</text>
<text x="405.00" y="616.60" font-size="10.5" font-weight="normal" text-anchor="start" fill="#1a1a1a" textLength="35.50" lengthAdjust="spacingAndGlyphs" >CD62L-</text>
<line x1="72.70" y1="793.40" x2="72.70" y2="916.00" stroke="#c4c4c4" stroke-width="1.0" />
<line x1="70.10" y1="916.00" x2="72.70" y2="916.00" stroke="#c4c4c4" stroke-width="1.0" />
<text x="64.00" y="919.90" font-size="10.8" font-weight="normal" text-anchor="end" fill="#262626" >0</text>
<line x1="70.10" y1="895.56" x2="72.70" y2="895.56" stroke="#c4c4c4" stroke-width="1.0" />
<text x="64.00" y="899.46" font-size="10.8" font-weight="normal" text-anchor="end" fill="#262626" >2</text>
<line x1="70.10" y1="875.12" x2="72.70" y2="875.12" stroke="#c4c4c4" stroke-width="1.0" />
<text x="64.00" y="879.02" font-size="10.8" font-weight="normal" text-anchor="end" fill="#262626" >4</text>
<line x1="70.10" y1="854.68" x2="72.70" y2="854.68" stroke="#c4c4c4" stroke-width="1.0" />
<text x="64.00" y="858.58" font-size="10.8" font-weight="normal" text-anchor="end" fill="#262626" >6</text>
<line x1="70.10" y1="834.24" x2="72.70" y2="834.24" stroke="#c4c4c4" stroke-width="1.0" />
<text x="64.00" y="838.14" font-size="10.8" font-weight="normal" text-anchor="end" fill="#262626" >8</text>
<line x1="70.10" y1="813.80" x2="72.70" y2="813.80" stroke="#c4c4c4" stroke-width="1.0" />
<text x="64.00" y="817.70" font-size="10.8" font-weight="normal" text-anchor="end" fill="#262626" >10</text>
<line x1="70.10" y1="793.36" x2="72.70" y2="793.36" stroke="#c4c4c4" stroke-width="1.0" />
<text x="64.00" y="797.26" font-size="10.8" font-weight="normal" text-anchor="end" fill="#262626" >12</text>
<line x1="70.70" y1="911.91" x2="72.70" y2="911.91" stroke="#d4d4d4" stroke-width="0.8" />
<line x1="70.70" y1="907.82" x2="72.70" y2="907.82" stroke="#d4d4d4" stroke-width="0.8" />
<line x1="70.70" y1="903.74" x2="72.70" y2="903.74" stroke="#d4d4d4" stroke-width="0.8" />
<line x1="70.70" y1="899.65" x2="72.70" y2="899.65" stroke="#d4d4d4" stroke-width="0.8" />
<line x1="70.70" y1="891.47" x2="72.70" y2="891.47" stroke="#d4d4d4" stroke-width="0.8" />
<line x1="70.70" y1="887.38" x2="72.70" y2="887.38" stroke="#d4d4d4" stroke-width="0.8" />
<line x1="70.70" y1="883.30" x2="72.70" y2="883.30" stroke="#d4d4d4" stroke-width="0.8" />
<line x1="70.70" y1="879.21" x2="72.70" y2="879.21" stroke="#d4d4d4" stroke-width="0.8" />
<line x1="70.70" y1="871.03" x2="72.70" y2="871.03" stroke="#d4d4d4" stroke-width="0.8" />
<line x1="70.70" y1="866.94" x2="72.70" y2="866.94" stroke="#d4d4d4" stroke-width="0.8" />
<line x1="70.70" y1="862.86" x2="72.70" y2="862.86" stroke="#d4d4d4" stroke-width="0.8" />
<line x1="70.70" y1="858.77" x2="72.70" y2="858.77" stroke="#d4d4d4" stroke-width="0.8" />
<line x1="70.70" y1="850.59" x2="72.70" y2="850.59" stroke="#d4d4d4" stroke-width="0.8" />
<line x1="70.70" y1="846.50" x2="72.70" y2="846.50" stroke="#d4d4d4" stroke-width="0.8" />
<line x1="70.70" y1="842.42" x2="72.70" y2="842.42" stroke="#d4d4d4" stroke-width="0.8" />
<line x1="70.70" y1="838.33" x2="72.70" y2="838.33" stroke="#d4d4d4" stroke-width="0.8" />
<line x1="70.70" y1="830.15" x2="72.70" y2="830.15" stroke="#d4d4d4" stroke-width="0.8" />
<line x1="70.70" y1="826.06" x2="72.70" y2="826.06" stroke="#d4d4d4" stroke-width="0.8" />
<line x1="70.70" y1="821.98" x2="72.70" y2="821.98" stroke="#d4d4d4" stroke-width="0.8" />
<line x1="70.70" y1="817.89" x2="72.70" y2="817.89" stroke="#d4d4d4" stroke-width="0.8" />
<line x1="70.70" y1="809.71" x2="72.70" y2="809.71" stroke="#d4d4d4" stroke-width="0.8" />
<line x1="70.70" y1="805.62" x2="72.70" y2="805.62" stroke="#d4d4d4" stroke-width="0.8" />
<line x1="70.70" y1="801.54" x2="72.70" y2="801.54" stroke="#d4d4d4" stroke-width="0.8" />
<line x1="70.70" y1="797.45" x2="72.70" y2="797.45" stroke="#d4d4d4" stroke-width="0.8" />
<line x1="72.70" y1="906.30" x2="247.30" y2="906.30" stroke="#c4c4c4" stroke-width="1.0" />
<line x1="72.70" y1="906.30" x2="72.70" y2="908.30" stroke="#d0d0d0" stroke-width="0.8" />
<line x1="87.06" y1="906.30" x2="87.06" y2="908.30" stroke="#d0d0d0" stroke-width="0.8" />
<line x1="101.42" y1="906.30" x2="101.42" y2="908.30" stroke="#d0d0d0" stroke-width="0.8" />
<line x1="115.78" y1="906.30" x2="115.78" y2="908.30" stroke="#d0d0d0" stroke-width="0.8" />
<line x1="130.13" y1="906.30" x2="130.13" y2="908.30" stroke="#d0d0d0" stroke-width="0.8" />
<line x1="144.49" y1="906.30" x2="144.49" y2="908.30" stroke="#d0d0d0" stroke-width="0.8" />
<line x1="158.85" y1="906.30" x2="158.85" y2="908.30" stroke="#d0d0d0" stroke-width="0.8" />
<line x1="173.21" y1="906.30" x2="173.21" y2="908.30" stroke="#d0d0d0" stroke-width="0.8" />
<line x1="187.57" y1="906.30" x2="187.57" y2="908.30" stroke="#d0d0d0" stroke-width="0.8" />
<line x1="201.93" y1="906.30" x2="201.93" y2="908.30" stroke="#d0d0d0" stroke-width="0.8" />
<line x1="216.28" y1="906.30" x2="216.28" y2="908.30" stroke="#d0d0d0" stroke-width="0.8" />
<line x1="230.64" y1="906.30" x2="230.64" y2="908.30" stroke="#d0d0d0" stroke-width="0.8" />
<line x1="245.00" y1="906.30" x2="245.00" y2="908.30" stroke="#d0d0d0" stroke-width="0.8" />
<text x="72.70" y="926.10" font-size="10.8" font-weight="normal" text-anchor="middle" fill="#262626" >0</text>
<text x="102.20" y="926.10" font-size="10.8" font-weight="normal" text-anchor="middle" fill="#262626" >10</text>
<text x="130.60" y="926.10" font-size="10.8" font-weight="normal" text-anchor="middle" fill="#262626" >20</text>
<text x="160.00" y="926.10" font-size="10.8" font-weight="normal" text-anchor="middle" fill="#262626" >30</text>
<text x="188.00" y="926.10" font-size="10.8" font-weight="normal" text-anchor="middle" fill="#262626" >40</text>
<text x="217.50" y="926.10" font-size="10.8" font-weight="normal" text-anchor="middle" fill="#262626" >50</text>
<text x="245.00" y="926.10" font-size="10.8" font-weight="normal" text-anchor="middle" fill="#262626" >60</text>
<text transform="translate(83.70 943.20) scale(0.9 1)" x="0" y="0" font-size="11.0" font-weight="bold" fill="#000" textLength="28.77" lengthAdjust="spacingAndGlyphs">Days</text>
<text transform="translate(114.13 943.20) scale(0.9 1)" x="0" y="0" font-size="11.0" font-weight="bold" fill="#000" textLength="30.07" lengthAdjust="spacing">after</text>
<text transform="translate(144.34 943.20) scale(0.9 1)" x="0" y="0" font-size="11.0" font-weight="bold" fill="#000" textLength="32.44" lengthAdjust="spacing">trans</text>
<text transform="translate(175.13 943.20) scale(0.9 1)" x="0" y="0" font-size="11.0" font-weight="bold" fill="#000" textLength="62.74" lengthAdjust="spacing">plantation</text>
<text x="36.80" y="844.65" font-size="11" font-weight="bold" text-anchor="middle" fill="#000" textLength="76.30" lengthAdjust="spacingAndGlyphs" transform="rotate(-90 36.80 844.65)" >Fold increase</text>
<line x1="133.40" y1="873.90" x2="133.40" y2="844.50" stroke="#1a1a1a" stroke-width="1.3" />
<line x1="129.40" y1="844.50" x2="137.40" y2="844.50" stroke="#1a1a1a" stroke-width="1.55" />
<line x1="154.50" y1="862.20" x2="154.50" y2="826.60" stroke="#1a1a1a" stroke-width="1.3" />
<line x1="150.50" y1="826.60" x2="158.50" y2="826.60" stroke="#1a1a1a" stroke-width="1.55" />
<line x1="174.50" y1="857.20" x2="174.50" y2="818.00" stroke="#1a1a1a" stroke-width="1.3" />
<line x1="170.50" y1="818.00" x2="178.50" y2="818.00" stroke="#1a1a1a" stroke-width="1.55" />
<line x1="194.60" y1="865.80" x2="194.60" y2="834.20" stroke="#1a1a1a" stroke-width="1.3" />
<line x1="190.60" y1="834.20" x2="198.60" y2="834.20" stroke="#1a1a1a" stroke-width="1.55" />
<line x1="234.80" y1="866.60" x2="234.80" y2="838.20" stroke="#1a1a1a" stroke-width="1.3" />
<line x1="230.80" y1="838.20" x2="238.80" y2="838.20" stroke="#1a1a1a" stroke-width="1.55" />
<line x1="154.50" y1="900.80" x2="154.50" y2="897.70" stroke="#1a1a1a" stroke-width="1.3" />
<line x1="150.50" y1="897.70" x2="158.50" y2="897.70" stroke="#1a1a1a" stroke-width="1.55" />
<line x1="174.50" y1="896.20" x2="174.50" y2="891.00" stroke="#1a1a1a" stroke-width="1.3" />
<line x1="170.50" y1="891.00" x2="178.50" y2="891.00" stroke="#1a1a1a" stroke-width="1.55" />
<line x1="194.60" y1="898.30" x2="194.60" y2="891.50" stroke="#1a1a1a" stroke-width="1.3" />
<line x1="190.60" y1="891.50" x2="198.60" y2="891.50" stroke="#1a1a1a" stroke-width="1.55" />
<line x1="234.80" y1="902.50" x2="234.80" y2="901.00" stroke="#1a1a1a" stroke-width="1.3" />
<line x1="230.80" y1="901.00" x2="238.80" y2="901.00" stroke="#1a1a1a" stroke-width="1.55" />
<line x1="133.40" y1="906.20" x2="133.40" y2="899.70" stroke="#c2c2c2" stroke-width="1.3" />
<line x1="129.40" y1="899.70" x2="137.40" y2="899.70" stroke="#c2c2c2" stroke-width="1.55" />
<polyline points="113.48,914.00 133.40,906.20 154.50,908.00 174.50,907.50 194.60,907.50 234.80,907.50" fill="none" stroke="#000" stroke-width="1.5" stroke-linejoin="round"/>
<polyline points="113.48,914.00 133.40,911.00 154.50,900.80 174.50,896.20 194.60,898.30 215.10,903.00 234.80,902.50" fill="none" stroke="#000" stroke-width="1.5" stroke-linejoin="round"/>
<polyline points="113.48,914.00 133.40,873.90 154.50,862.20 174.50,857.20 194.60,865.80 234.80,866.60" fill="none" stroke="#000" stroke-width="1.5" stroke-linejoin="round"/>
<polygon points="113.48,910.24 116.98,916.30 109.98,916.30" fill="none" stroke="#000" stroke-width="1.2" stroke-linejoin="miter"/>
<polygon points="133.40,902.44 136.90,908.50 129.90,908.50" fill="none" stroke="#000" stroke-width="1.2" stroke-linejoin="miter"/>
<polygon points="154.50,904.24 158.00,910.30 151.00,910.30" fill="none" stroke="#000" stroke-width="1.2" stroke-linejoin="miter"/>
<polygon points="174.50,903.74 178.00,909.80 171.00,909.80" fill="none" stroke="#000" stroke-width="1.2" stroke-linejoin="miter"/>
<polygon points="194.60,903.74 198.10,909.80 191.10,909.80" fill="none" stroke="#000" stroke-width="1.2" stroke-linejoin="miter"/>
<polygon points="234.80,903.74 238.30,909.80 231.30,909.80" fill="none" stroke="#000" stroke-width="1.2" stroke-linejoin="miter"/>
<circle cx="113.48" cy="914.00" r="3.00" fill="none" stroke="#000" stroke-width="1.2"/>
<circle cx="133.40" cy="911.00" r="3.00" fill="none" stroke="#000" stroke-width="1.2"/>
<circle cx="154.50" cy="900.80" r="3.00" fill="none" stroke="#000" stroke-width="1.2"/>
<circle cx="174.50" cy="896.20" r="3.00" fill="none" stroke="#000" stroke-width="1.2"/>
<circle cx="194.60" cy="898.30" r="3.00" fill="none" stroke="#000" stroke-width="1.2"/>
<circle cx="215.10" cy="903.00" r="3.00" fill="none" stroke="#000" stroke-width="1.2"/>
<circle cx="234.80" cy="902.50" r="3.00" fill="none" stroke="#000" stroke-width="1.2"/>
<rect x="110.38" y="910.90" width="6.20" height="6.20" fill="none" stroke="#000" stroke-width="1.2"/>
<rect x="130.30" y="870.80" width="6.20" height="6.20" fill="none" stroke="#000" stroke-width="1.2"/>
<rect x="151.40" y="859.10" width="6.20" height="6.20" fill="none" stroke="#000" stroke-width="1.2"/>
<rect x="171.40" y="854.10" width="6.20" height="6.20" fill="none" stroke="#000" stroke-width="1.2"/>
<rect x="191.50" y="862.70" width="6.20" height="6.20" fill="none" stroke="#000" stroke-width="1.2"/>
<rect x="231.70" y="863.50" width="6.20" height="6.20" fill="none" stroke="#000" stroke-width="1.2"/>
<rect x="109.40" y="909.60" width="7.20" height="9.20" fill="#000" stroke="none" stroke-width="0"/>
<text x="135.10" y="838.20" font-size="12" font-weight="normal" text-anchor="middle" fill="#000" stroke="#000" stroke-width="0.35">#</text>
<text x="154.30" y="818.50" font-size="12" font-weight="normal" text-anchor="middle" fill="#000" stroke="#000" stroke-width="0.35">#</text>
<text x="176.10" y="811.00" font-size="12" font-weight="normal" text-anchor="middle" fill="#000" stroke="#000" stroke-width="0.35">#</text>
<text x="195.40" y="829.20" font-size="12" font-weight="normal" text-anchor="middle" fill="#000" stroke="#000" stroke-width="0.35">#</text>
<text x="235.60" y="832.90" font-size="12" font-weight="normal" text-anchor="middle" fill="#000" stroke="#000" stroke-width="0.35">#</text>
<text x="175.00" y="886.40" font-size="12" font-weight="normal" text-anchor="middle" fill="#000" stroke="#000" stroke-width="0.35">&amp;</text>
<text x="193.70" y="886.40" font-size="12" font-weight="normal" text-anchor="middle" fill="#000" stroke="#000" stroke-width="0.35">&amp;</text>
<line x1="188.50" y1="788.10" x2="216.20" y2="788.10" stroke="#000" stroke-width="1.4" />
<rect x="199.30" y="785.10" width="6.00" height="6.00" fill="none" stroke="#000" stroke-width="1.2"/>
<text x="218.50" y="791.80" font-size="10.5" font-weight="normal" text-anchor="start" fill="#1a1a1a" textLength="35.30" lengthAdjust="spacingAndGlyphs" >BALB/c</text>
<line x1="188.50" y1="799.60" x2="216.20" y2="799.60" stroke="#000" stroke-width="1.4" />
<circle cx="202.30" cy="799.60" r="2.90" fill="none" stroke="#000" stroke-width="1.2"/>
<text x="218.50" y="803.30" font-size="10.5" font-weight="normal" text-anchor="start" fill="#1a1a1a" textLength="22.30" lengthAdjust="spacingAndGlyphs" >SCID</text>
<line x1="188.50" y1="811.90" x2="216.20" y2="811.90" stroke="#000" stroke-width="1.4" />
<polygon points="202.30,808.03 205.90,814.27 198.70,814.27" fill="#fff" stroke="#000" stroke-width="1.15" stroke-linejoin="miter"/>
<text x="218.50" y="815.60" font-size="10.5" font-weight="normal" text-anchor="start" fill="#1a1a1a" textLength="20.70" lengthAdjust="spacingAndGlyphs" >NSG</text>
<line x1="337.00" y1="791.30" x2="337.00" y2="912.50" stroke="#c4c4c4" stroke-width="1.0" />
<line x1="334.40" y1="912.50" x2="337.00" y2="912.50" stroke="#c4c4c4" stroke-width="1.0" />
<text x="328.30" y="916.40" font-size="10.8" font-weight="normal" text-anchor="end" fill="#262626" >0</text>
<line x1="334.40" y1="895.18" x2="337.00" y2="895.18" stroke="#c4c4c4" stroke-width="1.0" />
<text x="328.30" y="899.08" font-size="10.8" font-weight="normal" text-anchor="end" fill="#262626" >2</text>
<line x1="334.40" y1="877.86" x2="337.00" y2="877.86" stroke="#c4c4c4" stroke-width="1.0" />
<text x="328.30" y="881.76" font-size="10.8" font-weight="normal" text-anchor="end" fill="#262626" >4</text>
<line x1="334.40" y1="860.54" x2="337.00" y2="860.54" stroke="#c4c4c4" stroke-width="1.0" />
<text x="328.30" y="864.44" font-size="10.8" font-weight="normal" text-anchor="end" fill="#262626" >6</text>
<line x1="334.40" y1="843.22" x2="337.00" y2="843.22" stroke="#c4c4c4" stroke-width="1.0" />
<text x="328.30" y="847.12" font-size="10.8" font-weight="normal" text-anchor="end" fill="#262626" >8</text>
<line x1="334.40" y1="825.90" x2="337.00" y2="825.90" stroke="#c4c4c4" stroke-width="1.0" />
<text x="328.30" y="829.80" font-size="10.8" font-weight="normal" text-anchor="end" fill="#262626" >10</text>
<line x1="334.40" y1="808.58" x2="337.00" y2="808.58" stroke="#c4c4c4" stroke-width="1.0" />
<text x="328.30" y="812.48" font-size="10.8" font-weight="normal" text-anchor="end" fill="#262626" >12</text>
<line x1="334.40" y1="791.26" x2="337.00" y2="791.26" stroke="#c4c4c4" stroke-width="1.0" />
<text x="328.30" y="795.16" font-size="10.8" font-weight="normal" text-anchor="end" fill="#262626" >14</text>
<line x1="335.00" y1="909.04" x2="337.00" y2="909.04" stroke="#d4d4d4" stroke-width="0.8" />
<line x1="335.00" y1="905.57" x2="337.00" y2="905.57" stroke="#d4d4d4" stroke-width="0.8" />
<line x1="335.00" y1="902.11" x2="337.00" y2="902.11" stroke="#d4d4d4" stroke-width="0.8" />
<line x1="335.00" y1="898.64" x2="337.00" y2="898.64" stroke="#d4d4d4" stroke-width="0.8" />
<line x1="335.00" y1="891.72" x2="337.00" y2="891.72" stroke="#d4d4d4" stroke-width="0.8" />
<line x1="335.00" y1="888.25" x2="337.00" y2="888.25" stroke="#d4d4d4" stroke-width="0.8" />
<line x1="335.00" y1="884.79" x2="337.00" y2="884.79" stroke="#d4d4d4" stroke-width="0.8" />
<line x1="335.00" y1="881.32" x2="337.00" y2="881.32" stroke="#d4d4d4" stroke-width="0.8" />
<line x1="335.00" y1="874.40" x2="337.00" y2="874.40" stroke="#d4d4d4" stroke-width="0.8" />
<line x1="335.00" y1="870.93" x2="337.00" y2="870.93" stroke="#d4d4d4" stroke-width="0.8" />
<line x1="335.00" y1="867.47" x2="337.00" y2="867.47" stroke="#d4d4d4" stroke-width="0.8" />
<line x1="335.00" y1="864.00" x2="337.00" y2="864.00" stroke="#d4d4d4" stroke-width="0.8" />
<line x1="335.00" y1="857.08" x2="337.00" y2="857.08" stroke="#d4d4d4" stroke-width="0.8" />
<line x1="335.00" y1="853.61" x2="337.00" y2="853.61" stroke="#d4d4d4" stroke-width="0.8" />
<line x1="335.00" y1="850.15" x2="337.00" y2="850.15" stroke="#d4d4d4" stroke-width="0.8" />
<line x1="335.00" y1="846.68" x2="337.00" y2="846.68" stroke="#d4d4d4" stroke-width="0.8" />
<line x1="335.00" y1="839.76" x2="337.00" y2="839.76" stroke="#d4d4d4" stroke-width="0.8" />
<line x1="335.00" y1="836.29" x2="337.00" y2="836.29" stroke="#d4d4d4" stroke-width="0.8" />
<line x1="335.00" y1="832.83" x2="337.00" y2="832.83" stroke="#d4d4d4" stroke-width="0.8" />
<line x1="335.00" y1="829.36" x2="337.00" y2="829.36" stroke="#d4d4d4" stroke-width="0.8" />
<line x1="335.00" y1="822.44" x2="337.00" y2="822.44" stroke="#d4d4d4" stroke-width="0.8" />
<line x1="335.00" y1="818.97" x2="337.00" y2="818.97" stroke="#d4d4d4" stroke-width="0.8" />
<line x1="335.00" y1="815.51" x2="337.00" y2="815.51" stroke="#d4d4d4" stroke-width="0.8" />
<line x1="335.00" y1="812.04" x2="337.00" y2="812.04" stroke="#d4d4d4" stroke-width="0.8" />
<line x1="335.00" y1="805.12" x2="337.00" y2="805.12" stroke="#d4d4d4" stroke-width="0.8" />
<line x1="335.00" y1="801.65" x2="337.00" y2="801.65" stroke="#d4d4d4" stroke-width="0.8" />
<line x1="335.00" y1="798.19" x2="337.00" y2="798.19" stroke="#d4d4d4" stroke-width="0.8" />
<line x1="335.00" y1="794.72" x2="337.00" y2="794.72" stroke="#d4d4d4" stroke-width="0.8" />
<line x1="337.00" y1="904.30" x2="510.30" y2="904.30" stroke="#c4c4c4" stroke-width="1.0" />
<line x1="337.00" y1="904.30" x2="337.00" y2="906.30" stroke="#d0d0d0" stroke-width="0.8" />
<line x1="351.44" y1="904.30" x2="351.44" y2="906.30" stroke="#d0d0d0" stroke-width="0.8" />
<line x1="365.88" y1="904.30" x2="365.88" y2="906.30" stroke="#d0d0d0" stroke-width="0.8" />
<line x1="380.32" y1="904.30" x2="380.32" y2="906.30" stroke="#d0d0d0" stroke-width="0.8" />
<line x1="394.77" y1="904.30" x2="394.77" y2="906.30" stroke="#d0d0d0" stroke-width="0.8" />
<line x1="409.21" y1="904.30" x2="409.21" y2="906.30" stroke="#d0d0d0" stroke-width="0.8" />
<line x1="423.65" y1="904.30" x2="423.65" y2="906.30" stroke="#d0d0d0" stroke-width="0.8" />
<line x1="438.09" y1="904.30" x2="438.09" y2="906.30" stroke="#d0d0d0" stroke-width="0.8" />
<line x1="452.53" y1="904.30" x2="452.53" y2="906.30" stroke="#d0d0d0" stroke-width="0.8" />
<line x1="466.98" y1="904.30" x2="466.98" y2="906.30" stroke="#d0d0d0" stroke-width="0.8" />
<line x1="481.42" y1="904.30" x2="481.42" y2="906.30" stroke="#d0d0d0" stroke-width="0.8" />
<line x1="495.86" y1="904.30" x2="495.86" y2="906.30" stroke="#d0d0d0" stroke-width="0.8" />
<line x1="510.30" y1="904.30" x2="510.30" y2="906.30" stroke="#d0d0d0" stroke-width="0.8" />
<text x="336.30" y="924.80" font-size="10.8" font-weight="normal" text-anchor="middle" fill="#262626" >0</text>
<text x="365.60" y="924.80" font-size="10.8" font-weight="normal" text-anchor="middle" fill="#262626" >10</text>
<text x="394.40" y="924.80" font-size="10.8" font-weight="normal" text-anchor="middle" fill="#262626" >20</text>
<text x="423.40" y="924.80" font-size="10.8" font-weight="normal" text-anchor="middle" fill="#262626" >30</text>
<text x="452.60" y="924.80" font-size="10.8" font-weight="normal" text-anchor="middle" fill="#262626" >40</text>
<text x="481.90" y="924.80" font-size="10.8" font-weight="normal" text-anchor="middle" fill="#262626" >50</text>
<text x="510.30" y="924.80" font-size="10.8" font-weight="normal" text-anchor="middle" fill="#262626" >60</text>
<text transform="translate(346.30 942.80) scale(0.9 1)" x="0" y="0" font-size="11.0" font-weight="bold" fill="#000" textLength="29.22" lengthAdjust="spacingAndGlyphs">Days</text>
<text transform="translate(377.23 942.80) scale(0.9 1)" x="0" y="0" font-size="11.0" font-weight="bold" fill="#000" textLength="30.55" lengthAdjust="spacing">after</text>
<text transform="translate(407.93 942.80) scale(0.9 1)" x="0" y="0" font-size="11.0" font-weight="bold" fill="#000" textLength="32.95" lengthAdjust="spacing">trans</text>
<text transform="translate(439.23 942.80) scale(0.9 1)" x="0" y="0" font-size="11.0" font-weight="bold" fill="#000" textLength="63.75" lengthAdjust="spacing">plantation</text>
<text x="288.80" y="844.65" font-size="11" font-weight="bold" text-anchor="middle" fill="#000" textLength="76.30" lengthAdjust="spacingAndGlyphs" transform="rotate(-90 288.80 844.65)" >Fold increase</text>
<line x1="397.80" y1="870.20" x2="397.80" y2="840.80" stroke="#c2c2c2" stroke-width="1.3" />
<line x1="393.80" y1="840.80" x2="401.80" y2="840.80" stroke="#c2c2c2" stroke-width="1.55" />
<line x1="418.10" y1="854.80" x2="418.10" y2="813.10" stroke="#c2c2c2" stroke-width="1.3" />
<line x1="414.10" y1="813.10" x2="422.10" y2="813.10" stroke="#c2c2c2" stroke-width="1.55" />
<line x1="438.60" y1="881.80" x2="438.60" y2="860.30" stroke="#c2c2c2" stroke-width="1.3" />
<line x1="434.60" y1="860.30" x2="442.60" y2="860.30" stroke="#c2c2c2" stroke-width="1.55" />
<line x1="457.70" y1="890.00" x2="457.70" y2="874.30" stroke="#c2c2c2" stroke-width="1.3" />
<line x1="453.70" y1="874.30" x2="461.70" y2="874.30" stroke="#c2c2c2" stroke-width="1.55" />
<line x1="498.80" y1="880.80" x2="498.80" y2="863.50" stroke="#c2c2c2" stroke-width="1.3" />
<line x1="494.80" y1="863.50" x2="502.80" y2="863.50" stroke="#c2c2c2" stroke-width="1.55" />
<line x1="418.10" y1="894.00" x2="418.10" y2="882.00" stroke="#c2c2c2" stroke-width="1.3" />
<line x1="414.10" y1="882.00" x2="422.10" y2="882.00" stroke="#c2c2c2" stroke-width="1.55" />
<line x1="377.30" y1="887.50" x2="377.30" y2="863.50" stroke="#c2c2c2" stroke-width="1.3" />
<line x1="373.30" y1="863.50" x2="381.30" y2="863.50" stroke="#c2c2c2" stroke-width="1.55" />
<polyline points="377.30,887.50 397.80,904.80 418.10,904.20 438.60,904.20 457.70,904.20 498.80,902.30" fill="none" stroke="#000" stroke-width="1.5" stroke-linejoin="round"/>
<polyline points="377.30,910.20 397.80,908.30 418.10,894.00 438.60,896.30 457.70,895.80 478.00,902.00 498.80,901.10" fill="none" stroke="#000" stroke-width="1.5" stroke-linejoin="round"/>
<polyline points="377.30,906.70 397.80,870.20 418.10,854.80 438.60,881.80 457.70,890.00 498.80,880.80" fill="none" stroke="#000" stroke-width="1.5" stroke-linejoin="round"/>
<polygon points="377.30,883.74 380.80,889.80 373.80,889.80" fill="none" stroke="#000" stroke-width="1.2" stroke-linejoin="miter"/>
<polygon points="397.80,901.04 401.30,907.10 394.30,907.10" fill="none" stroke="#000" stroke-width="1.2" stroke-linejoin="miter"/>
<polygon points="418.10,900.44 421.60,906.50 414.60,906.50" fill="none" stroke="#000" stroke-width="1.2" stroke-linejoin="miter"/>
<polygon points="438.60,900.44 442.10,906.50 435.10,906.50" fill="none" stroke="#000" stroke-width="1.2" stroke-linejoin="miter"/>
<polygon points="457.70,900.44 461.20,906.50 454.20,906.50" fill="none" stroke="#000" stroke-width="1.2" stroke-linejoin="miter"/>
<polygon points="498.80,898.54 502.30,904.60 495.30,904.60" fill="none" stroke="#000" stroke-width="1.2" stroke-linejoin="miter"/>
<circle cx="377.30" cy="910.20" r="3.00" fill="none" stroke="#000" stroke-width="1.2"/>
<circle cx="397.80" cy="908.30" r="3.00" fill="none" stroke="#000" stroke-width="1.2"/>
<circle cx="418.10" cy="894.00" r="3.00" fill="none" stroke="#000" stroke-width="1.2"/>
<circle cx="438.60" cy="896.30" r="3.00" fill="none" stroke="#000" stroke-width="1.2"/>
<circle cx="457.70" cy="895.80" r="3.00" fill="none" stroke="#000" stroke-width="1.2"/>
<circle cx="478.00" cy="902.00" r="3.00" fill="none" stroke="#000" stroke-width="1.2"/>
<circle cx="498.80" cy="901.10" r="3.00" fill="none" stroke="#000" stroke-width="1.2"/>
<rect x="374.20" y="903.60" width="6.20" height="6.20" fill="none" stroke="#000" stroke-width="1.2"/>
<rect x="394.70" y="867.10" width="6.20" height="6.20" fill="none" stroke="#000" stroke-width="1.2"/>
<rect x="415.00" y="851.70" width="6.20" height="6.20" fill="none" stroke="#000" stroke-width="1.2"/>
<rect x="435.50" y="878.70" width="6.20" height="6.20" fill="none" stroke="#000" stroke-width="1.2"/>
<rect x="454.60" y="886.90" width="6.20" height="6.20" fill="none" stroke="#000" stroke-width="1.2"/>
<rect x="495.70" y="877.70" width="6.20" height="6.20" fill="none" stroke="#000" stroke-width="1.2"/>
<text x="376.60" y="856.30" font-size="12" font-weight="normal" text-anchor="middle" fill="#000" stroke="#000" stroke-width="0.35">#</text>
<text x="399.20" y="833.70" font-size="12" font-weight="normal" text-anchor="middle" fill="#000" stroke="#000" stroke-width="0.35">#</text>
<text x="415.80" y="806.10" font-size="12" font-weight="normal" text-anchor="middle" fill="#000" stroke="#000" stroke-width="0.35">#</text>
<text x="436.40" y="852.90" font-size="12" font-weight="normal" text-anchor="middle" fill="#000" stroke="#000" stroke-width="0.35">#,&amp;</text>
<text x="494.60" y="855.10" font-size="12" font-weight="normal" text-anchor="middle" fill="#000" stroke="#000" stroke-width="0.35">#</text>
<line x1="433.50" y1="787.30" x2="462.30" y2="787.30" stroke="#000" stroke-width="1.4" />
<rect x="445.50" y="784.30" width="6.00" height="6.00" fill="none" stroke="#000" stroke-width="1.2"/>
<text x="463.50" y="791.00" font-size="10.5" font-weight="normal" text-anchor="start" fill="#1a1a1a" textLength="36.90" lengthAdjust="spacingAndGlyphs" >BALB/c</text>
<line x1="433.50" y1="798.80" x2="462.30" y2="798.80" stroke="#000" stroke-width="1.4" />
<circle cx="448.50" cy="798.80" r="2.90" fill="none" stroke="#000" stroke-width="1.2"/>
<text x="463.50" y="802.50" font-size="10.5" font-weight="normal" text-anchor="start" fill="#1a1a1a" textLength="24.20" lengthAdjust="spacingAndGlyphs" >SCID</text>
<line x1="433.50" y1="811.10" x2="462.30" y2="811.10" stroke="#000" stroke-width="1.4" />
<polygon points="448.50,807.23 452.10,813.47 444.90,813.47" fill="#fff" stroke="#000" stroke-width="1.15" stroke-linejoin="miter"/>
<text x="463.50" y="814.80" font-size="10.5" font-weight="normal" text-anchor="start" fill="#1a1a1a" textLength="21.90" lengthAdjust="spacingAndGlyphs" >NSG</text>
</svg>
</body></html>
